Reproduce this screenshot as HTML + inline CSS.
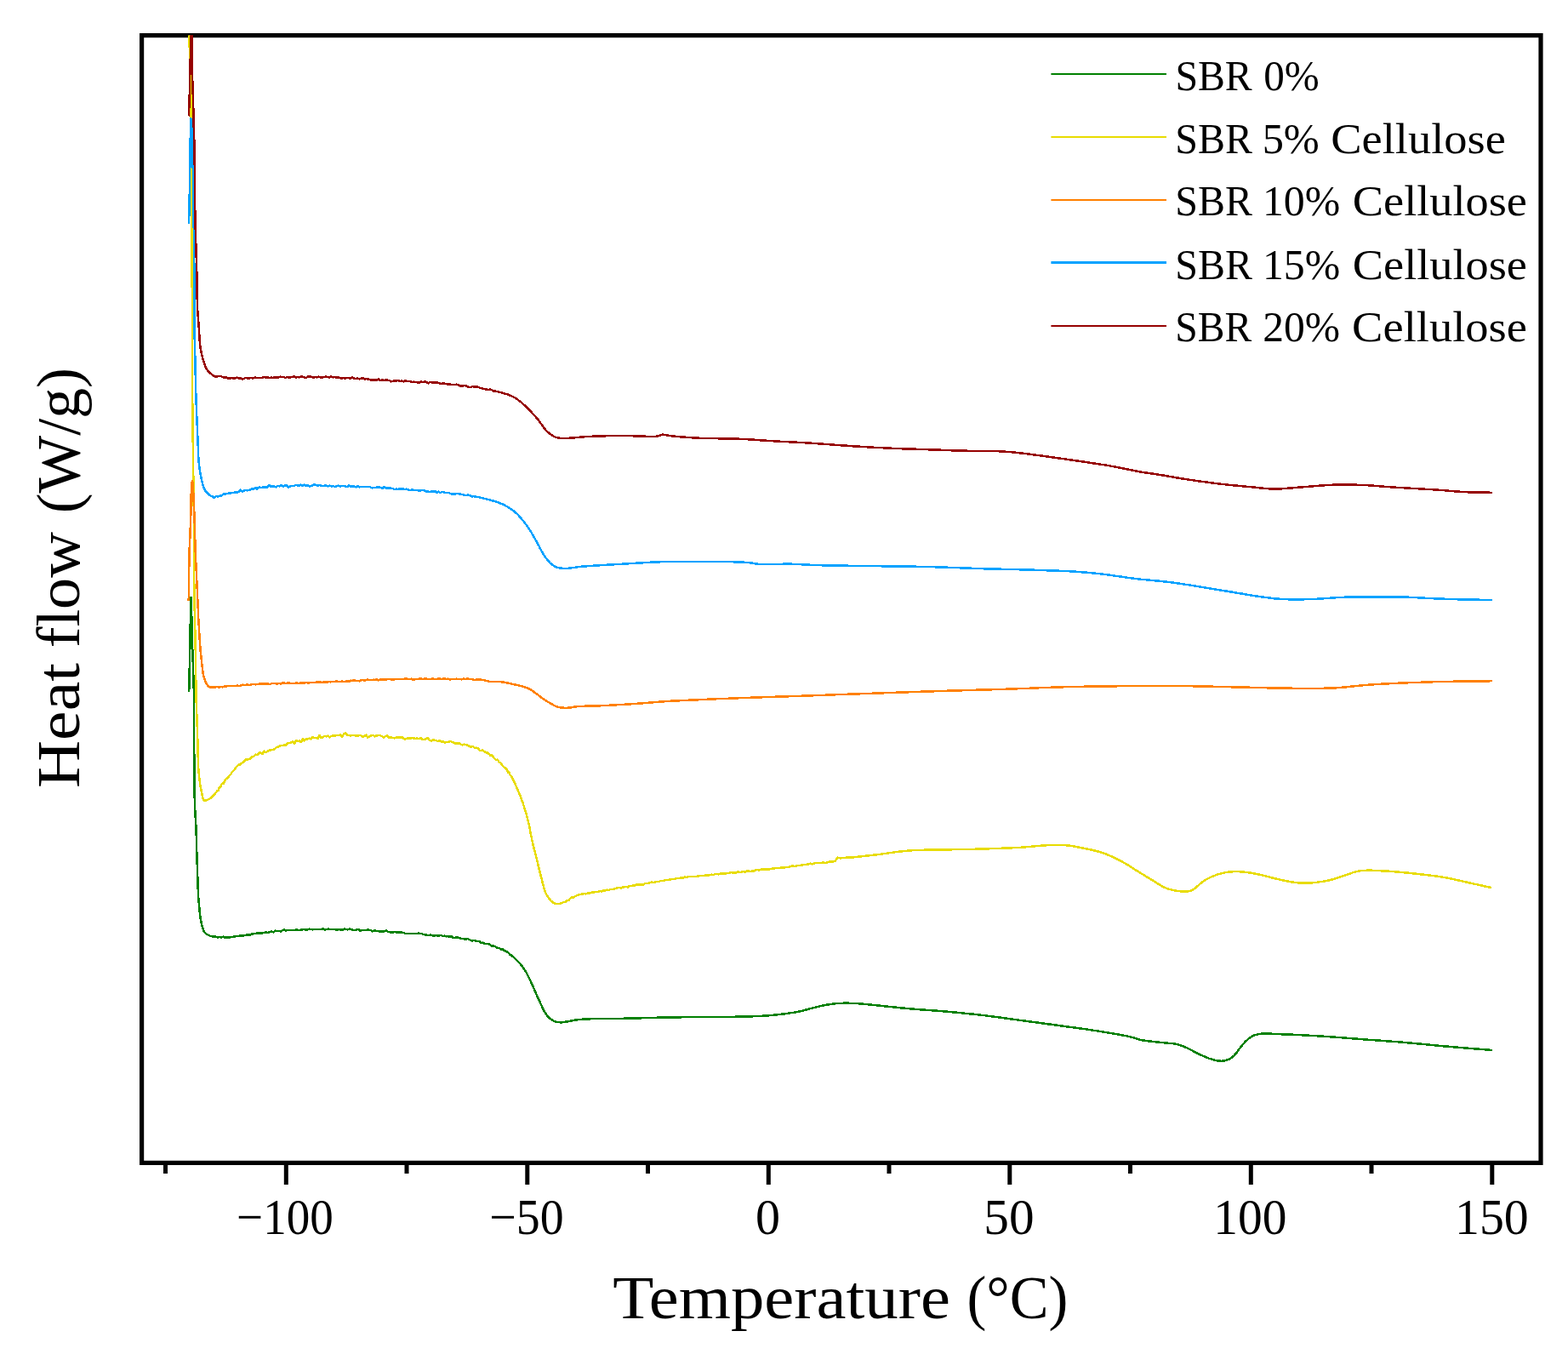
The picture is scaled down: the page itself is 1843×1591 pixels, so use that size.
<!DOCTYPE html>
<html><head><meta charset="utf-8"><title>DSC Heat flow</title><style>html,body{margin:0;padding:0;background:#fff;overflow:hidden}svg{display:block}</style></head><body>
<svg width="1843" height="1591" viewBox="0 0 1843 1591">
<rect width="1843" height="1591" fill="#fff"/>
<defs><clipPath id="pc"><rect x="166.5" y="41.5" width="1645" height="1325"/></clipPath></defs>
<rect x="166.6" y="41.6" width="1644.4" height="1324.8" fill="none" stroke="#000" stroke-width="5.2"/>
<g clip-path="url(#pc)" shape-rendering="crispEdges" fill="none" stroke-linejoin="round" stroke-linecap="butt">
<g stroke="#008000"><defs><path id="cGR" d="M222.2 813.0L222.2 811.0 222.3 808.9 222.3 806.9 222.4 804.9 222.4 802.8 222.5 800.8 222.5 798.8 222.5 796.8 222.6 794.7 222.6 792.7 222.7 790.7 222.7 788.7 222.7 786.6 222.8 784.6 222.8 782.6 222.9 780.6 222.9 778.5 223.0 776.5 223.0 774.4 223.0 772.4 223.1 770.3 223.1 768.3 223.2 766.2 223.2 764.2 223.3 762.1 223.3 760.0 223.3 757.9 223.4 755.7 223.4 753.3 223.5 750.9 223.5 748.3 223.6 745.7 223.6 743.0 223.6 740.3 223.7 737.5 223.7 734.8 223.8 732.0 223.8 729.3 223.8 726.6 223.9 724.0 223.9 721.4 224.0 718.9 224.0 716.6 224.1 714.3 224.1 712.2 224.1 710.3 224.2 708.5 224.2 706.9 224.3 705.5 224.3 704.3 224.4 703.4 224.4 702.7 224.5 702.2 224.5 702.1 224.6 702.3 224.6 703.1 224.7 704.2 224.7 705.7 224.8 707.5 224.9 709.6 224.9 711.9 225.0 714.4 225.1 717.1 225.1 719.8 225.2 722.5 225.3 725.2 225.3 727.9 225.4 730.4 225.4 732.8 225.5 735.0 225.6 737.1 225.6 739.1 225.7 741.2 225.7 743.3 225.8 745.4 225.8 747.4 225.9 749.5 225.9 751.6 226.0 753.7 226.1 755.7 226.1 757.8 226.2 759.9 226.2 761.9 226.3 764.0 226.3 766.0 226.4 768.1 226.5 770.3 226.5 772.4 226.6 774.6 226.7 776.8 226.8 779.1 226.8 781.3 226.9 783.5 227.0 785.6 227.1 787.8 227.2 789.9 227.2 792.0 227.3 794.1 227.4 796.1 227.4 798.1 227.5 800.0 227.6 802.2 227.6 804.2 227.7 806.1 227.7 808.0 227.8 809.9 227.8 811.7 227.9 813.6 227.9 815.6 228.0 817.7 228.0 820.0 228.0 821.7 228.0 823.5 228.0 825.3 228.0 827.2 228.0 829.1 228.0 831.1 228.0 833.2 228.0 835.2 228.0 837.3 228.0 839.4 228.0 841.6 228.0 843.7 228.0 845.8 228.0 847.9 228.0 850.0 228.0 852.1 228.0 854.1 228.0 856.1 228.0 858.1 228.0 860.0 228.0 862.2 228.0 864.3 228.0 866.5 228.1 868.5 228.1 870.6 228.1 872.6 228.1 874.6 228.1 876.6 228.2 878.7 228.2 880.7 228.2 882.8 228.2 884.9 228.3 887.1 228.3 889.3 228.3 891.6 228.3 893.4 228.3 895.3 228.3 897.3 228.4 899.3 228.4 901.4 228.4 903.5 228.4 905.6 228.4 907.8 228.4 909.9 228.4 912.1 228.5 914.3 228.5 916.5 228.5 918.6 228.5 920.8 228.5 922.9 228.5 925.0 228.6 927.1 228.6 929.1 228.6 931.1 228.7 933.0 228.7 934.9 228.7 936.7 228.8 938.4 228.8 940.0 228.9 942.4 229.0 944.6 229.0 946.8 229.1 948.8 229.2 950.8 229.3 952.7 229.4 954.6 229.5 956.4 229.6 958.2 229.7 960.0 229.8 962.2 229.9 964.1 230.0 965.9 230.2 967.9 230.3 970.0 230.4 972.6 230.5 974.0 230.5 975.4 230.6 977.0 230.6 978.7 230.7 980.5 230.8 982.4 230.8 984.3 230.9 986.3 230.9 988.4 231.0 990.5 231.1 992.6 231.1 994.8 231.2 997.1 231.2 999.3 231.3 1001.6 231.4 1003.8 231.4 1006.1 231.5 1008.3 231.6 1010.6 231.6 1012.8 231.7 1014.9 231.8 1017.1 231.8 1019.2 231.9 1021.2 232.0 1023.1 232.0 1025.0 232.1 1026.8 232.2 1029.1 232.3 1031.3 232.3 1033.5 232.4 1035.6 232.5 1037.7 232.5 1039.8 232.6 1041.8 232.7 1043.9 232.8 1045.8 232.9 1047.8 233.0 1049.8 233.1 1051.7 233.2 1053.6 233.3 1055.6 233.4 1057.5 233.6 1059.4 233.8 1061.5 234.0 1063.7 234.2 1065.8 234.4 1068.0 234.6 1070.2 234.8 1072.3 235.0 1074.4 235.3 1076.4 235.5 1078.4 235.8 1080.3 236.2 1082.1 236.5 1083.8 236.9 1085.4 237.5 1088.0 238.2 1090.4 238.9 1092.6 239.9 1094.6 241.2 1096.3 242.9 1097.7 244.8 1098.8 247.1 1099.7 249.5 1100.4 252.1 1100.5 253.9 1100.8 255.9 1101.7 257.9 1100.7 260.1 1101.5 262.4 1100.6 264.7 1101.9 267.0 1101.4 269.3 1101.7 271.6 1100.8 273.8 1100.9 276.0 1100.5 278.2 1100.1 280.3 1100.2 282.5 1099.3 284.6 1099.4 286.6 1099.4 288.8 1098.8 290.9 1098.3 293.1 1099.0 295.4 1097.7 297.7 1097.2 299.5 1097.2 301.4 1096.7 303.3 1096.5 305.2 1096.3 307.2 1097.0 309.2 1095.9 311.2 1095.7 313.2 1095.7 315.3 1096.0 317.4 1094.8 319.5 1094.5 321.6 1095.5 323.7 1093.7 325.9 1093.9 328.0 1094.1 330.2 1094.6 332.1 1093.2 334.1 1092.4 336.1 1093.5 338.1 1093.0 340.1 1092.9 342.1 1093.1 344.2 1092.9 346.3 1092.8 348.4 1092.5 350.4 1093.0 352.6 1093.1 354.7 1092.4 356.8 1092.1 358.9 1092.5 361.0 1092.4 363.1 1091.7 365.2 1091.9 367.3 1092.4 369.4 1091.9 371.5 1091.8 373.6 1092.0 375.7 1091.9 377.7 1091.8 379.8 1091.1 381.9 1092.5 383.9 1091.9 386.0 1091.5 388.1 1092.2 390.1 1091.9 392.2 1091.8 394.3 1092.3 396.3 1092.8 398.4 1092.1 400.5 1092.6 402.5 1092.8 404.6 1091.6 406.7 1091.9 408.7 1092.4 410.8 1091.5 412.9 1092.1 414.9 1092.8 417.0 1092.8 419.1 1092.7 421.1 1091.8 423.2 1093.6 425.3 1093.0 427.3 1093.2 429.4 1093.2 431.5 1092.5 433.5 1092.7 435.6 1092.9 437.7 1094.3 439.7 1093.4 441.8 1093.8 443.9 1093.9 445.9 1094.4 448.0 1094.5 450.1 1094.6 452.1 1094.1 454.2 1093.5 456.3 1095.0 458.3 1095.2 460.4 1095.7 462.5 1095.3 464.6 1095.2 466.7 1095.8 468.8 1095.2 470.9 1095.5 473.0 1095.7 475.1 1096.3 477.3 1097.2 479.4 1096.8 481.5 1097.1 483.6 1096.9 485.7 1097.1 487.8 1096.9 489.9 1097.2 491.9 1096.5 494.0 1097.1 496.0 1097.2 498.0 1098.2 500.0 1098.3 502.0 1098.7 503.9 1099.0 506.1 1098.5 508.2 1099.2 510.3 1099.7 512.4 1099.1 514.4 1099.7 516.4 1099.4 518.5 1099.0 520.5 1099.9 522.5 1099.7 524.4 1100.3 526.4 1100.2 528.4 1100.8 530.4 1100.0 532.4 1102.0 534.4 1102.0 536.4 1101.6 538.5 1101.7 540.6 1102.4 542.8 1103.0 545.0 1103.3 547.2 1103.7 549.4 1103.1 551.6 1103.9 553.8 1105.3 556.0 1105.3 558.1 1105.1 560.1 1105.8 562.1 1106.0 564.0 1106.6 565.8 1107.9 567.4 1107.7 569.0 1108.7 571.6 1109.0 573.8 1108.9 575.8 1110.0 577.9 1111.8 580.0 1111.4 581.8 1111.9 583.7 1113.5 585.6 1113.8 587.4 1114.4 589.3 1115.8 591.2 1115.4 593.0 1117.3 594.7 1117.7 596.4 1118.6 598.1 1120.0 599.7 1122.0 601.3 1122.8 602.9 1124.1 604.5 1125.5 606.0 1126.9 607.5 1128.4 609.0 1129.9 610.4 1131.4 611.8 1133.0 613.1 1134.7 614.4 1136.4 615.7 1138.1 616.9 1139.9 618.0 1141.7 619.0 1143.5 620.0 1145.4 621.0 1147.3 621.9 1149.3 622.8 1151.3 623.8 1153.3 624.7 1155.3 625.6 1157.3 626.5 1159.2 627.4 1161.1 628.2 1163.1 629.1 1165.1 629.9 1167.1 630.8 1169.1 631.7 1171.1 632.5 1173.0 633.4 1174.9 634.3 1176.8 635.2 1178.7 636.1 1180.7 637.0 1182.7 637.9 1184.6 638.8 1186.5 639.8 1188.3 640.8 1190.1 641.8 1191.7 642.9 1193.1 644.5 1194.9 646.2 1196.5 648.0 1197.9 649.8 1199.1 651.6 1200.0 654.0 1200.8 656.4 1201.2 659.2 1201.3 660.8 1201.3 662.5 1201.1 664.3 1200.8 666.2 1200.5 668.2 1200.1 670.3 1199.7 672.5 1199.3 674.8 1198.9 677.1 1198.5 679.5 1198.2 682.0 1197.9 683.7 1197.8 685.5 1197.6 687.3 1197.5 689.2 1197.4 691.2 1197.4 693.2 1197.3 695.2 1197.2 697.3 1197.2 699.4 1197.2 701.6 1197.1 703.8 1197.1 706.0 1197.1 708.2 1197.0 710.4 1197.0 712.6 1197.0 714.8 1197.0 717.0 1197.0 719.2 1197.0 721.4 1197.0 723.6 1196.9 725.7 1196.9 727.8 1196.9 729.9 1196.8 731.9 1196.8 734.0 1196.7 736.2 1196.7 738.3 1196.6 740.4 1196.6 742.4 1196.5 744.5 1196.5 746.6 1196.4 748.7 1196.4 750.7 1196.3 752.8 1196.3 754.8 1196.2 756.9 1196.1 758.9 1196.1 760.9 1196.0 763.0 1196.0 765.0 1195.9 767.1 1195.9 769.1 1195.8 771.2 1195.8 773.2 1195.7 775.3 1195.7 777.4 1195.7 779.4 1195.6 781.5 1195.6 783.5 1195.5 785.5 1195.5 787.6 1195.5 789.6 1195.4 791.6 1195.4 793.6 1195.4 795.7 1195.3 797.7 1195.3 799.8 1195.3 801.8 1195.2 803.9 1195.2 805.9 1195.2 808.0 1195.1 810.1 1195.1 812.2 1195.1 814.4 1195.1 816.5 1195.0 818.7 1195.0 820.6 1195.0 822.6 1195.0 824.5 1194.9 826.5 1194.9 828.6 1194.9 830.6 1194.9 832.7 1194.9 834.8 1194.9 836.9 1194.9 839.0 1194.9 841.1 1194.9 843.2 1194.9 845.3 1194.9 847.4 1194.9 849.5 1194.9 851.6 1194.9 853.6 1194.9 855.7 1194.8 857.7 1194.8 859.8 1194.8 861.7 1194.8 863.7 1194.8 865.6 1194.7 867.5 1194.7 869.4 1194.7 871.2 1194.6 873.0 1194.6 875.3 1194.5 877.5 1194.5 879.6 1194.4 881.7 1194.4 883.8 1194.3 885.8 1194.2 887.8 1194.2 889.8 1194.1 891.8 1194.0 893.8 1193.9 895.7 1193.8 897.7 1193.7 899.6 1193.6 901.6 1193.4 903.6 1193.3 905.6 1193.1 907.6 1192.9 909.7 1192.7 911.8 1192.5 913.9 1192.3 916.0 1192.1 918.1 1191.8 920.2 1191.6 922.3 1191.3 924.4 1191.0 926.4 1190.7 928.4 1190.4 930.4 1190.1 932.4 1189.8 934.4 1189.5 936.3 1189.1 938.1 1188.8 940.3 1188.4 942.4 1187.9 944.4 1187.4 946.4 1186.8 948.4 1186.3 950.3 1185.7 952.2 1185.2 954.1 1184.7 956.1 1184.1 958.0 1183.7 960.0 1183.2 962.0 1182.8 963.9 1182.3 965.9 1181.9 967.9 1181.5 969.8 1181.1 971.8 1180.7 973.8 1180.4 975.8 1180.1 977.7 1179.8 979.7 1179.5 981.7 1179.3 983.9 1179.1 986.0 1179.0 988.2 1178.9 990.4 1178.8 992.5 1178.7 994.7 1178.7 996.9 1178.7 999.1 1178.8 1001.2 1178.8 1003.4 1178.9 1005.5 1179.0 1007.6 1179.1 1009.7 1179.3 1011.7 1179.4 1013.8 1179.6 1015.9 1179.9 1018.0 1180.1 1020.3 1180.3 1022.6 1180.6 1025.1 1180.8 1026.8 1181.0 1028.7 1181.1 1030.5 1181.3 1032.4 1181.5 1034.4 1181.7 1036.4 1181.9 1038.5 1182.2 1040.5 1182.4 1042.7 1182.6 1044.8 1182.8 1046.9 1183.1 1049.1 1183.3 1051.3 1183.5 1053.5 1183.7 1055.7 1184.0 1057.8 1184.2 1060.0 1184.4 1062.2 1184.6 1064.3 1184.8 1066.4 1185.0 1068.5 1185.2 1070.6 1185.4 1072.6 1185.6 1074.7 1185.7 1076.8 1185.9 1078.8 1186.1 1080.9 1186.2 1083.0 1186.4 1085.0 1186.5 1087.1 1186.7 1089.2 1186.8 1091.2 1187.0 1093.3 1187.1 1095.4 1187.3 1097.4 1187.4 1099.5 1187.6 1101.6 1187.7 1103.6 1187.9 1105.7 1188.1 1107.8 1188.2 1109.8 1188.4 1111.9 1188.6 1114.0 1188.8 1116.0 1189.0 1118.1 1189.2 1120.2 1189.4 1122.2 1189.5 1124.3 1189.7 1126.4 1189.9 1128.4 1190.1 1130.5 1190.3 1132.6 1190.5 1134.6 1190.8 1136.7 1191.0 1138.8 1191.2 1140.8 1191.4 1142.9 1191.6 1145.0 1191.8 1147.0 1192.1 1149.1 1192.3 1151.2 1192.5 1153.2 1192.8 1155.3 1193.0 1157.4 1193.2 1159.4 1193.5 1161.5 1193.8 1163.6 1194.0 1165.6 1194.3 1167.7 1194.6 1169.8 1194.8 1171.8 1195.1 1173.9 1195.4 1176.0 1195.7 1178.0 1195.9 1180.1 1196.2 1182.2 1196.5 1184.2 1196.8 1186.3 1197.1 1188.4 1197.4 1190.4 1197.7 1192.5 1198.0 1194.6 1198.2 1196.6 1198.5 1198.7 1198.8 1200.8 1199.1 1202.8 1199.4 1204.9 1199.6 1207.0 1199.9 1209.0 1200.2 1211.1 1200.5 1213.2 1200.8 1215.2 1201.0 1217.3 1201.3 1219.4 1201.6 1221.4 1201.9 1223.5 1202.2 1225.6 1202.4 1227.6 1202.7 1229.7 1203.0 1231.8 1203.3 1233.8 1203.6 1235.9 1203.8 1238.0 1204.1 1240.0 1204.4 1242.1 1204.7 1244.2 1205.0 1246.2 1205.3 1248.3 1205.5 1250.4 1205.8 1252.5 1206.1 1254.5 1206.4 1256.6 1206.7 1258.7 1206.9 1260.7 1207.2 1262.8 1207.5 1264.9 1207.8 1267.0 1208.1 1269.0 1208.4 1271.1 1208.6 1273.2 1208.9 1275.3 1209.2 1277.3 1209.5 1279.4 1209.8 1281.5 1210.2 1283.5 1210.5 1285.6 1210.8 1287.6 1211.1 1289.7 1211.4 1291.8 1211.8 1293.9 1212.1 1296.1 1212.5 1298.2 1212.8 1300.4 1213.2 1302.6 1213.5 1304.8 1213.9 1307.0 1214.2 1309.1 1214.6 1311.2 1214.9 1313.3 1215.3 1315.4 1215.7 1317.3 1216.0 1319.3 1216.4 1321.1 1216.7 1322.9 1217.1 1324.6 1217.4 1326.1 1217.8 1327.6 1218.1 1329.0 1218.4 1331.6 1219.1 1333.7 1219.8 1335.6 1220.5 1337.6 1221.2 1340.0 1221.8 1341.7 1222.1 1343.5 1222.5 1345.4 1222.7 1347.4 1223.0 1349.4 1223.3 1351.5 1223.5 1353.7 1223.8 1355.8 1224.0 1357.9 1224.2 1360.0 1224.5 1362.0 1224.7 1363.9 1224.9 1366.1 1225.1 1368.4 1225.3 1370.6 1225.5 1372.8 1225.7 1375.0 1225.9 1377.1 1226.1 1379.1 1226.3 1381.1 1226.6 1383.0 1227.0 1385.2 1227.6 1387.1 1228.2 1389.0 1228.9 1390.9 1229.6 1392.9 1230.4 1394.9 1231.3 1396.7 1232.1 1398.5 1233.0 1400.4 1233.9 1402.3 1235.0 1404.2 1236.0 1406.1 1237.0 1408.0 1238.0 1409.8 1238.9 1411.6 1239.7 1413.7 1240.6 1415.7 1241.5 1417.7 1242.4 1419.6 1243.2 1421.6 1243.9 1423.6 1244.5 1425.6 1245.1 1427.6 1245.6 1429.6 1246.1 1431.6 1246.5 1433.6 1246.7 1435.5 1246.8 1438.0 1246.6 1440.5 1246.1 1442.8 1245.4 1445.0 1244.5 1447.0 1243.3 1448.8 1241.9 1450.5 1240.3 1452.2 1238.5 1453.7 1236.8 1455.1 1234.8 1456.4 1232.8 1457.9 1230.8 1459.4 1228.9 1460.9 1227.2 1462.4 1225.5 1463.9 1223.8 1465.6 1222.2 1467.2 1220.7 1468.9 1219.4 1470.7 1218.3 1472.4 1217.3 1474.2 1216.5 1476.2 1215.9 1478.5 1215.3 1480.0 1215.0 1481.7 1214.8 1483.4 1214.7 1485.3 1214.6 1487.2 1214.6 1489.3 1214.6 1491.4 1214.7 1493.5 1214.7 1495.7 1214.8 1497.9 1214.9 1500.2 1215.0 1502.5 1215.1 1504.8 1215.2 1507.1 1215.3 1508.9 1215.3 1510.8 1215.4 1512.7 1215.5 1514.7 1215.5 1516.7 1215.6 1518.7 1215.7 1520.8 1215.8 1522.8 1215.9 1524.9 1216.0 1527.0 1216.1 1529.2 1216.2 1531.3 1216.3 1533.5 1216.4 1535.6 1216.5 1537.8 1216.7 1540.0 1216.8 1542.1 1216.9 1544.3 1217.0 1546.4 1217.2 1548.6 1217.3 1550.7 1217.4 1552.8 1217.6 1554.9 1217.7 1557.0 1217.8 1559.1 1218.0 1561.1 1218.1 1563.2 1218.3 1565.3 1218.4 1567.3 1218.6 1569.4 1218.7 1571.5 1218.9 1573.6 1219.0 1575.6 1219.2 1577.7 1219.3 1579.8 1219.5 1581.9 1219.7 1583.9 1219.8 1586.0 1220.0 1588.1 1220.2 1590.2 1220.3 1592.2 1220.5 1594.3 1220.7 1596.4 1220.8 1598.5 1221.0 1600.5 1221.1 1602.6 1221.3 1604.7 1221.5 1606.8 1221.6 1608.8 1221.8 1610.9 1221.9 1613.0 1222.1 1615.1 1222.2 1617.1 1222.4 1619.2 1222.5 1621.3 1222.7 1623.4 1222.8 1625.5 1223.0 1627.5 1223.1 1629.6 1223.3 1631.7 1223.4 1633.8 1223.6 1635.9 1223.7 1637.9 1223.9 1640.0 1224.1 1642.1 1224.2 1644.2 1224.4 1646.2 1224.6 1648.3 1224.7 1650.4 1224.9 1652.5 1225.1 1654.5 1225.3 1656.6 1225.4 1658.7 1225.6 1660.7 1225.8 1662.8 1226.0 1664.8 1226.2 1666.8 1226.4 1668.9 1226.6 1670.9 1226.8 1673.0 1227.0 1675.0 1227.2 1677.1 1227.4 1679.2 1227.6 1681.2 1227.8 1683.3 1228.0 1685.4 1228.2 1687.5 1228.4 1689.6 1228.6 1691.7 1228.8 1693.8 1229.0 1695.9 1229.2 1698.1 1229.4 1700.0 1229.6 1702.0 1229.7 1703.9 1229.9 1705.9 1230.1 1707.8 1230.2 1709.8 1230.4 1711.8 1230.6 1713.8 1230.7 1715.8 1230.9 1717.8 1231.1 1719.8 1231.2 1721.8 1231.4 1723.8 1231.6 1725.9 1231.7 1727.9 1231.9 1729.9 1232.0 1731.9 1232.2 1734.0 1232.4 1736.0 1232.5 1738.0 1232.7 1740.1 1232.9 1742.1 1233.0 1744.1 1233.2 1746.1 1233.3 1748.2 1233.5 1750.2 1233.7 1752.2 1233.8 1754.2 1234.0"/></defs><use href="#cGR" stroke-width="2.5"/>
<use href="#cGR" stroke-width="1.2"/></g>
<g stroke="#e8dc00"><defs><path id="cYE" d="M222.4 10.0L222.4 12.1 222.4 14.2 222.4 16.4 222.4 18.5 222.5 20.7 222.5 22.8 222.5 24.9 222.5 27.1 222.5 29.2 222.5 31.3 222.5 33.4 222.5 35.5 222.6 37.6 222.6 39.6 222.6 41.6 222.6 43.8 222.6 46.0 222.7 48.2 222.7 50.4 222.7 52.5 222.7 54.6 222.8 56.7 222.8 58.8 222.8 60.9 222.9 62.9 222.9 65.0 223.0 67.0 223.1 69.1 223.2 71.2 223.3 73.2 223.4 75.1 223.5 77.1 223.7 79.0 223.8 81.1 223.9 83.3 224.0 85.5 224.1 88.0 224.1 89.6 224.2 91.3 224.2 93.0 224.3 94.7 224.3 96.5 224.3 98.4 224.3 100.3 224.3 102.2 224.4 104.2 224.4 106.2 224.4 108.2 224.4 110.3 224.4 112.3 224.4 114.4 224.4 116.6 224.4 118.7 224.4 120.8 224.4 123.0 224.4 125.1 224.4 127.3 224.5 129.4 224.5 131.6 224.5 133.7 224.5 135.9 224.5 138.0 224.5 139.9 224.5 141.8 224.5 143.7 224.6 145.7 224.6 147.6 224.6 149.5 224.6 151.5 224.6 153.4 224.6 155.3 224.7 157.3 224.7 159.2 224.7 161.2 224.7 163.2 224.7 165.2 224.7 167.2 224.8 169.2 224.8 171.2 224.8 173.2 224.8 175.2 224.8 177.3 224.8 179.4 224.9 181.5 224.9 183.6 224.9 185.7 224.9 187.8 224.9 190.0 224.9 192.1 225.0 194.3 225.0 196.5 225.0 198.7 225.0 201.0 225.0 202.8 225.0 204.6 225.0 206.5 225.0 208.3 225.1 210.2 225.1 212.1 225.1 214.1 225.1 216.0 225.1 218.0 225.1 219.9 225.1 221.9 225.1 223.9 225.1 225.9 225.2 228.0 225.2 230.0 225.2 232.1 225.2 234.1 225.2 236.2 225.2 238.3 225.2 240.3 225.2 242.4 225.2 244.5 225.2 246.6 225.3 248.7 225.3 250.8 225.3 252.9 225.3 255.0 225.3 257.1 225.3 259.2 225.3 261.4 225.3 263.5 225.3 265.6 225.3 267.7 225.3 269.7 225.4 271.8 225.4 273.9 225.4 276.0 225.4 278.1 225.4 280.1 225.4 282.2 225.4 284.2 225.4 286.2 225.4 288.2 225.4 290.2 225.5 292.2 225.5 294.2 225.5 296.1 225.5 298.1 225.5 300.0 225.5 302.1 225.5 304.2 225.5 306.3 225.5 308.3 225.6 310.4 225.6 312.4 225.6 314.5 225.6 316.5 225.6 318.5 225.6 320.5 225.6 322.5 225.7 324.5 225.7 326.5 225.7 328.5 225.7 330.5 225.7 332.5 225.7 334.4 225.7 336.4 225.8 338.4 225.8 340.3 225.8 342.3 225.8 344.2 225.8 346.2 225.8 348.2 225.8 350.1 225.8 352.1 225.9 354.1 225.9 356.0 225.9 358.0 225.9 360.0 225.9 361.9 225.9 363.9 225.9 365.9 225.9 367.9 226.0 369.9 226.0 371.9 226.0 373.9 226.0 375.9 226.0 378.0 226.0 380.0 226.0 382.0 226.0 384.0 226.0 386.0 226.0 388.0 226.0 390.0 226.0 392.0 226.0 394.0 226.0 396.0 226.1 398.0 226.1 400.1 226.1 402.1 226.1 404.1 226.1 406.2 226.1 408.2 226.1 410.2 226.1 412.3 226.1 414.3 226.1 416.3 226.1 418.4 226.1 420.4 226.1 422.5 226.1 424.5 226.1 426.6 226.1 428.6 226.1 430.7 226.1 432.7 226.1 434.7 226.1 436.8 226.1 438.8 226.1 440.8 226.1 442.9 226.1 444.9 226.1 446.9 226.1 449.0 226.1 451.0 226.1 453.0 226.1 455.0 226.1 457.0 226.2 459.0 226.2 461.0 226.2 463.0 226.2 465.0 226.2 467.0 226.2 469.0 226.2 471.1 226.2 473.2 226.3 475.2 226.3 477.3 226.3 479.3 226.3 481.4 226.3 483.5 226.4 485.5 226.4 487.6 226.4 489.7 226.4 491.8 226.4 493.8 226.5 495.9 226.5 498.0 226.5 500.0 226.5 502.1 226.6 504.1 226.6 506.2 226.6 508.2 226.6 510.3 226.7 512.3 226.7 514.3 226.7 516.3 226.7 518.3 226.8 520.3 226.8 522.3 226.8 524.3 226.8 526.3 226.9 528.2 226.9 530.2 226.9 532.1 226.9 534.0 227.0 535.9 227.0 537.8 227.0 539.7 227.0 541.5 227.1 543.4 227.1 545.2 227.1 547.0 227.1 549.2 227.2 551.4 227.2 553.5 227.2 555.6 227.2 557.7 227.3 559.7 227.3 561.7 227.3 563.6 227.4 565.6 227.4 567.5 227.4 569.5 227.4 571.4 227.5 573.3 227.5 575.2 227.5 577.1 227.6 579.1 227.6 581.0 227.6 583.0 227.6 585.0 227.7 587.0 227.7 589.1 227.7 591.2 227.7 593.3 227.8 595.5 227.8 597.7 227.8 600.0 227.8 601.8 227.8 603.6 227.8 605.4 227.9 607.2 227.9 609.1 227.9 611.0 227.9 612.9 227.9 614.8 227.9 616.7 227.9 618.7 227.9 620.7 227.9 622.7 227.9 624.7 228.0 626.7 228.0 628.8 228.0 630.8 228.0 632.9 228.0 635.0 228.0 637.1 228.0 639.2 228.0 641.3 228.0 643.4 228.0 645.5 228.0 647.6 228.0 649.7 228.0 651.8 228.0 653.9 228.0 656.0 228.1 658.1 228.1 660.3 228.1 662.4 228.1 664.5 228.1 666.6 228.1 668.6 228.1 670.7 228.1 672.8 228.1 674.8 228.2 676.9 228.2 678.9 228.2 680.9 228.2 683.0 228.2 684.9 228.3 686.9 228.3 688.9 228.3 690.8 228.3 692.9 228.4 695.1 228.4 697.2 228.4 699.3 228.5 701.4 228.5 703.6 228.5 705.7 228.6 707.8 228.6 709.9 228.6 712.0 228.7 714.1 228.7 716.2 228.8 718.3 228.8 720.4 228.9 722.5 228.9 724.6 229.0 726.6 229.0 728.7 229.0 730.8 229.1 732.8 229.1 734.9 229.2 736.9 229.2 738.9 229.3 740.9 229.3 742.9 229.4 744.9 229.4 746.9 229.5 748.9 229.5 750.9 229.5 752.8 229.6 754.8 229.6 756.7 229.7 758.6 229.7 760.5 229.7 762.4 229.8 764.3 229.8 766.2 229.8 768.4 229.9 770.7 229.9 773.0 229.9 775.2 230.0 777.5 230.0 779.8 230.0 782.0 230.1 784.3 230.1 786.5 230.1 788.7 230.1 790.9 230.2 793.1 230.2 795.3 230.2 797.4 230.3 799.5 230.3 801.6 230.3 803.7 230.3 805.7 230.4 807.6 230.4 809.6 230.4 811.4 230.5 813.3 230.5 815.0 230.5 816.7 230.6 818.4 230.6 820.0 230.7 822.4 230.7 824.6 230.8 826.7 230.9 828.6 230.9 830.5 231.0 832.4 231.1 834.2 231.2 836.1 231.2 838.0 231.3 840.0 231.4 842.0 231.4 844.0 231.5 846.1 231.6 848.1 231.6 850.1 231.7 852.2 231.8 854.3 231.9 856.5 231.9 858.7 232.0 861.0 232.1 863.4 232.2 865.2 232.2 867.1 232.3 869.0 232.3 871.1 232.4 873.1 232.4 875.3 232.5 877.4 232.5 879.6 232.6 881.9 232.6 884.1 232.7 886.3 232.7 888.6 232.8 890.8 232.9 893.0 232.9 895.1 233.0 897.2 233.1 899.3 233.2 901.3 233.3 903.2 233.5 905.0 233.6 906.8 233.8 909.3 234.0 911.7 234.3 914.1 234.5 916.3 234.8 918.5 235.1 920.7 235.4 922.7 235.8 924.7 236.1 926.6 236.5 928.5 237.0 930.9 237.4 933.4 237.9 935.8 238.5 937.9 239.2 939.5 240.2 940.5 242.1 940.6 244.4 939.6 246.7 938.3 248.3 937.2 249.8 935.8 251.3 934.2 252.8 932.5 254.3 930.7 255.5 929.2 256.8 928.6 258.0 924.9 259.2 924.9 260.4 921.9 261.6 920.2 262.9 920.5 264.3 917.2 265.6 915.4 267.0 914.5 268.5 913.3 270.0 910.7 271.6 909.5 272.9 906.8 274.3 905.9 275.7 904.4 277.1 902.1 278.6 900.4 280.1 898.8 281.7 898.6 283.4 897.3 285.1 895.8 286.8 895.0 288.6 892.6 290.4 892.7 292.3 892.0 294.3 891.5 296.3 889.2 298.3 888.8 300.4 886.5 302.4 887.1 304.5 884.7 306.5 884.6 308.5 886.1 310.5 882.3 312.4 884.2 314.4 883.0 316.4 881.6 318.3 881.6 320.3 880.9 322.3 880.6 324.2 878.7 326.2 877.7 328.2 877.0 330.2 876.0 332.2 876.2 334.1 875.0 336.1 876.1 338.1 872.9 340.0 873.0 342.0 872.6 344.0 871.1 346.0 874.2 347.9 869.8 349.9 871.2 351.9 870.5 353.9 872.0 355.8 868.2 357.7 870.5 359.6 868.4 361.5 868.5 363.4 867.5 365.4 868.3 367.3 866.3 369.4 866.8 371.5 866.8 373.6 867.9 375.4 863.8 377.3 867.1 379.3 866.4 381.3 864.9 383.3 865.4 385.3 864.6 387.4 866.3 389.5 864.9 391.6 864.4 393.7 864.3 395.8 864.2 397.9 864.2 400.0 863.5 402.1 866.0 404.2 862.4 406.2 860.9 408.2 864.0 410.2 863.9 412.2 864.4 414.2 863.9 416.2 864.0 418.2 864.4 420.2 865.0 422.2 863.8 424.2 864.0 426.2 866.1 428.2 864.9 430.2 863.6 432.3 866.7 434.4 865.4 436.5 864.3 438.7 863.8 440.6 865.3 442.6 864.3 444.6 864.2 446.7 864.1 448.7 865.0 450.8 866.5 452.9 865.3 455.1 864.5 457.2 866.5 459.3 866.1 461.5 867.0 463.6 867.4 465.7 866.3 467.9 866.5 470.0 866.8 472.1 865.9 474.1 867.7 476.2 868.5 478.2 867.6 480.2 867.3 482.1 867.5 484.3 867.2 486.4 867.3 488.5 867.8 490.6 867.6 492.6 868.1 494.7 867.3 496.7 869.2 498.7 869.1 500.7 868.1 502.7 867.3 504.7 869.5 506.7 870.7 508.7 869.3 510.7 869.7 512.7 869.9 514.7 871.2 516.8 870.0 518.8 872.0 520.9 871.0 523.0 872.4 525.1 871.8 527.2 871.8 529.4 870.9 531.5 871.9 533.5 872.6 535.6 873.7 537.6 873.6 539.7 873.1 541.6 874.5 543.6 875.4 545.5 874.7 547.3 874.9 549.5 875.5 551.7 877.2 553.8 877.6 555.9 876.9 558.0 878.8 560.0 878.7 561.9 879.2 563.8 881.7 565.6 882.1 567.3 881.5 569.0 883.0 571.1 884.4 573.0 884.4 574.8 886.0 576.5 887.8 578.2 886.9 580.0 890.1 581.6 891.7 583.3 892.9 585.0 892.7 586.7 895.7 588.4 896.2 590.0 899.1 591.5 900.7 593.0 901.9 594.4 902.6 595.8 904.4 597.0 907.4 598.3 907.5 599.4 910.4 600.6 911.7 601.7 913.6 602.8 915.5 603.8 917.4 604.8 919.4 605.7 921.5 606.6 923.6 607.5 925.7 608.4 927.8 609.3 929.9 610.1 931.8 610.9 933.7 611.6 935.6 612.3 937.5 613.1 939.4 613.8 941.4 614.5 943.3 615.1 945.3 615.8 947.3 616.4 949.2 617.0 951.1 617.6 953.0 618.1 954.9 618.7 956.9 619.2 958.8 619.7 960.8 620.2 962.8 620.7 964.8 621.2 966.8 621.6 968.7 622.1 970.7 622.5 972.6 622.9 974.6 623.2 976.6 623.6 978.6 624.0 980.6 624.4 982.6 624.8 984.5 625.2 986.5 625.6 988.5 626.1 990.5 626.5 992.5 627.0 994.4 627.5 996.4 628.0 998.4 628.5 1000.3 629.0 1002.3 629.5 1004.3 630.0 1006.3 630.5 1008.2 631.0 1010.2 631.5 1012.2 632.0 1014.2 632.5 1016.2 632.9 1018.2 633.4 1020.2 633.9 1022.2 634.4 1024.1 634.9 1026.1 635.4 1028.1 635.9 1030.0 636.4 1031.9 637.0 1034.1 637.5 1036.3 638.0 1038.4 638.6 1040.6 639.1 1042.8 639.7 1044.8 640.4 1046.8 641.1 1048.7 641.9 1050.4 643.0 1052.4 644.2 1054.3 645.5 1056.0 646.8 1057.6 648.2 1059.0 649.5 1060.1 652.1 1061.7 654.9 1062.3 656.6 1062.1 658.5 1061.6 660.6 1061.0 662.7 1059.8 664.8 1059.7 666.8 1058.0 668.6 1057.9 670.3 1055.5 672.0 1054.4 673.8 1054.6 675.6 1053.5 677.7 1052.4 679.4 1052.0 681.1 1050.8 682.9 1050.9 684.8 1050.3 686.8 1050.2 688.8 1050.3 690.8 1049.6 692.9 1049.4 695.1 1048.7 697.2 1048.4 699.4 1048.2 701.2 1047.8 703.1 1048.0 705.1 1046.9 707.1 1047.5 709.1 1046.2 711.1 1046.6 713.2 1045.6 715.2 1046.1 717.3 1045.2 719.4 1045.0 721.5 1044.8 723.6 1043.9 725.7 1043.4 727.8 1042.8 729.9 1043.6 731.9 1042.6 733.9 1042.3 736.0 1042.1 738.0 1042.5 740.0 1040.8 742.1 1041.2 744.1 1040.6 746.2 1040.6 748.2 1039.5 750.2 1039.6 752.3 1039.7 754.3 1039.6 756.4 1039.3 758.4 1038.1 760.4 1038.1 762.5 1037.7 764.5 1036.9 766.5 1036.6 768.5 1037.0 770.5 1036.4 772.5 1035.9 774.5 1036.1 776.5 1034.9 778.5 1035.1 780.4 1034.6 782.4 1034.2 784.5 1034.0 786.5 1033.6 788.5 1033.3 790.6 1032.9 792.7 1033.2 794.8 1032.1 797.0 1032.3 798.9 1031.9 800.9 1031.3 802.9 1031.5 804.9 1030.6 806.9 1031.1 808.9 1030.2 811.0 1030.1 813.1 1030.2 815.1 1030.2 817.2 1030.0 819.3 1029.8 821.5 1029.3 823.6 1028.8 825.7 1029.2 827.8 1028.9 829.9 1028.3 832.0 1028.7 834.1 1028.3 836.2 1027.7 838.3 1028.0 840.4 1027.1 842.5 1027.1 844.5 1027.3 846.6 1026.4 848.7 1026.8 850.8 1026.1 852.8 1026.6 854.9 1025.9 857.0 1026.0 859.0 1025.2 861.1 1025.4 863.2 1025.7 865.3 1025.3 867.3 1024.3 869.4 1025.0 871.5 1024.8 873.5 1024.1 875.6 1024.6 877.7 1023.5 879.8 1023.6 881.8 1023.8 883.9 1023.7 886.0 1023.4 888.1 1022.4 890.2 1021.9 892.3 1022.5 894.4 1021.6 896.5 1021.8 898.6 1021.2 900.7 1021.8 902.8 1021.5 904.9 1021.2 907.0 1020.8 909.1 1020.6 911.2 1020.2 913.3 1020.2 915.4 1019.9 917.4 1019.8 919.4 1019.3 921.4 1019.8 923.4 1019.1 925.4 1019.2 927.3 1019.0 929.5 1017.9 931.7 1017.4 933.8 1018.1 936.0 1017.3 938.1 1017.2 940.2 1016.8 942.3 1016.7 944.4 1015.9 946.4 1016.1 948.4 1015.7 950.4 1015.6 952.4 1014.5 954.3 1015.3 956.3 1014.9 958.1 1013.9 960.0 1014.0 962.4 1014.0 965.0 1014.0 967.5 1013.6 970.1 1014.0 972.5 1013.3 974.8 1012.7 976.9 1012.6 978.8 1012.7 980.4 1011.8 981.7 1011.7 983.2 1009.6 984.3 1007.7 988.2 1008.6 989.3 1008.2 990.6 1008.2 992.1 1007.9 993.8 1007.8 995.6 1007.4 997.6 1007.6 999.7 1007.2 1001.9 1007.4 1004.1 1007.2 1006.4 1006.9 1008.8 1006.7 1011.2 1006.4 1013.6 1006.2 1016.0 1005.9 1018.3 1005.6 1020.7 1005.4 1022.9 1005.1 1025.1 1004.9 1027.1 1004.7 1029.1 1004.4 1031.1 1004.2 1033.1 1003.9 1035.2 1003.7 1037.2 1003.4 1039.3 1003.1 1041.4 1002.8 1043.5 1002.5 1045.5 1002.2 1047.6 1001.9 1049.7 1001.6 1051.8 1001.3 1053.9 1001.1 1056.0 1000.8 1058.1 1000.5 1060.2 1000.3 1062.3 1000.1 1064.3 999.9 1066.4 999.7 1068.5 999.5 1070.6 999.4 1072.6 999.2 1074.7 999.1 1076.8 999.0 1078.8 998.9 1080.9 998.9 1083.0 998.8 1085.0 998.8 1087.1 998.7 1089.2 998.7 1091.2 998.7 1093.3 998.6 1095.4 998.6 1097.4 998.6 1099.5 998.6 1101.6 998.6 1103.6 998.5 1105.7 998.5 1107.8 998.5 1109.8 998.4 1111.9 998.4 1114.0 998.4 1116.0 998.3 1118.1 998.3 1120.2 998.2 1122.2 998.2 1124.3 998.2 1126.4 998.1 1128.4 998.1 1130.5 998.0 1132.6 998.0 1134.6 998.0 1136.7 997.9 1138.8 997.9 1140.8 997.9 1142.9 997.8 1145.0 997.8 1147.0 997.7 1149.1 997.7 1151.2 997.6 1153.2 997.6 1155.3 997.5 1157.4 997.4 1159.5 997.4 1161.6 997.3 1163.7 997.2 1165.8 997.2 1167.9 997.1 1170.0 997.0 1172.1 997.0 1174.2 996.9 1176.3 996.8 1178.4 996.7 1180.5 996.7 1182.6 996.6 1184.7 996.5 1186.8 996.4 1188.8 996.3 1190.8 996.2 1192.8 996.1 1194.8 996.0 1196.8 995.9 1198.7 995.8 1200.9 995.7 1203.0 995.5 1205.2 995.3 1207.3 995.2 1209.5 995.0 1211.6 994.8 1213.6 994.6 1215.7 994.4 1217.7 994.2 1219.8 994.0 1221.8 993.8 1223.7 993.7 1225.7 993.5 1227.6 993.4 1229.5 993.3 1231.3 993.2 1233.6 993.1 1235.9 993.0 1238.1 992.9 1240.3 992.9 1242.4 992.9 1244.5 992.8 1246.6 992.9 1248.7 992.9 1250.9 993.0 1253.0 993.2 1255.0 993.4 1257.0 993.6 1258.9 993.9 1260.9 994.2 1262.9 994.5 1264.9 994.9 1266.8 995.3 1268.8 995.7 1270.8 996.1 1272.7 996.5 1274.7 996.9 1276.7 997.3 1278.7 997.7 1280.6 998.1 1282.6 998.6 1284.6 999.0 1286.6 999.5 1288.6 1000.0 1290.5 1000.5 1292.5 1001.1 1294.5 1001.7 1296.4 1002.3 1298.4 1003.0 1300.4 1003.8 1302.4 1004.6 1304.4 1005.4 1306.3 1006.3 1308.3 1007.2 1310.3 1008.1 1312.2 1009.1 1314.2 1010.1 1316.2 1011.1 1318.1 1012.1 1320.0 1013.1 1321.8 1014.2 1323.7 1015.3 1325.6 1016.4 1327.5 1017.6 1329.4 1018.8 1331.2 1020.0 1333.1 1021.1 1334.9 1022.3 1336.6 1023.4 1338.3 1024.5 1340.0 1025.5 1341.9 1026.7 1343.8 1027.8 1345.5 1028.9 1347.3 1030.0 1349.0 1031.0 1350.7 1032.1 1352.5 1033.1 1354.3 1034.2 1356.1 1035.3 1357.9 1036.4 1359.7 1037.6 1361.6 1038.7 1363.4 1039.9 1365.3 1041.0 1367.2 1042.0 1369.1 1042.9 1371.0 1043.7 1373.1 1044.4 1375.2 1045.1 1377.3 1045.6 1379.5 1046.1 1381.6 1046.5 1383.7 1046.9 1385.7 1047.1 1387.7 1047.3 1389.8 1047.5 1391.8 1047.6 1393.8 1047.6 1395.7 1047.5 1397.7 1047.2 1399.7 1046.6 1401.3 1045.9 1402.9 1044.9 1404.6 1043.7 1406.2 1042.4 1407.8 1040.9 1409.5 1039.5 1411.2 1038.0 1412.9 1036.6 1414.6 1035.3 1416.4 1034.2 1418.2 1033.2 1420.1 1032.2 1422.0 1031.3 1423.9 1030.4 1425.8 1029.6 1427.8 1028.8 1429.7 1028.1 1431.7 1027.4 1433.6 1026.8 1435.5 1026.3 1437.6 1025.8 1439.7 1025.3 1441.7 1025.0 1443.7 1024.7 1445.8 1024.4 1447.9 1024.3 1450.0 1024.2 1452.2 1024.1 1454.2 1024.1 1456.3 1024.2 1458.3 1024.3 1460.4 1024.4 1462.5 1024.7 1464.6 1024.9 1466.8 1025.2 1469.1 1025.5 1471.4 1025.9 1473.7 1026.3 1475.5 1026.6 1477.3 1027.0 1479.2 1027.4 1481.2 1027.9 1483.2 1028.3 1485.2 1028.8 1487.2 1029.3 1489.3 1029.9 1491.3 1030.4 1493.4 1031.0 1495.4 1031.5 1497.5 1032.0 1499.5 1032.5 1501.4 1033.0 1503.4 1033.4 1505.3 1033.8 1507.1 1034.2 1509.2 1034.6 1511.3 1035.0 1513.3 1035.4 1515.3 1035.8 1517.2 1036.2 1519.1 1036.5 1521.1 1036.8 1523.0 1037.1 1525.0 1037.3 1526.9 1037.5 1528.9 1037.6 1531.0 1037.7 1533.0 1037.7 1535.0 1037.7 1537.1 1037.6 1539.2 1037.5 1541.3 1037.4 1543.4 1037.2 1545.5 1037.0 1547.6 1036.8 1549.7 1036.5 1551.8 1036.2 1553.8 1035.9 1555.8 1035.6 1557.7 1035.2 1559.6 1034.9 1561.9 1034.4 1564.1 1033.9 1566.3 1033.3 1568.4 1032.7 1570.4 1032.0 1572.5 1031.4 1574.5 1030.7 1576.6 1030.0 1578.7 1029.4 1580.6 1028.8 1582.5 1028.1 1584.3 1027.5 1586.1 1026.8 1588.0 1026.1 1589.8 1025.4 1591.7 1024.8 1593.7 1024.3 1595.7 1023.8 1597.8 1023.4 1599.6 1023.2 1601.5 1023.0 1603.5 1022.8 1605.4 1022.8 1607.5 1022.7 1609.5 1022.7 1611.6 1022.7 1613.6 1022.8 1615.8 1022.9 1617.9 1023.0 1620.0 1023.1 1622.2 1023.2 1624.3 1023.3 1626.5 1023.4 1628.5 1023.5 1630.5 1023.6 1632.6 1023.7 1634.7 1023.9 1636.7 1024.0 1638.9 1024.2 1641.0 1024.4 1643.1 1024.6 1645.2 1024.8 1647.4 1025.0 1649.5 1025.2 1651.7 1025.4 1653.8 1025.6 1655.9 1025.8 1658.1 1026.0 1660.2 1026.3 1662.3 1026.5 1664.3 1026.7 1666.3 1026.9 1668.3 1027.1 1670.3 1027.4 1672.3 1027.6 1674.2 1027.8 1676.2 1028.0 1678.2 1028.3 1680.2 1028.5 1682.2 1028.8 1684.2 1029.0 1686.2 1029.3 1688.2 1029.6 1690.2 1029.8 1692.1 1030.1 1694.1 1030.4 1696.1 1030.8 1698.1 1031.1 1700.1 1031.5 1702.2 1031.8 1704.2 1032.2 1706.3 1032.7 1708.4 1033.1 1710.5 1033.6 1712.6 1034.0 1714.6 1034.5 1716.7 1035.0 1718.8 1035.4 1720.8 1035.9 1722.8 1036.4 1724.8 1036.8 1726.7 1037.3 1728.6 1037.7 1730.4 1038.1 1732.2 1038.5 1733.9 1038.9 1736.3 1039.4 1738.5 1039.9 1740.7 1040.4 1742.8 1040.8 1744.8 1041.3 1746.9 1041.7 1748.9 1042.1 1750.9 1042.6 1753.0 1043.0"/></defs><use href="#cYE" stroke-width="2.5"/>
<use href="#cYE" stroke-width="1.2"/></g>
<g stroke="#ff8000"><defs><path id="cOR" d="M221.7 705.9L221.7 703.9 221.8 701.8 221.8 699.8 221.8 697.7 221.8 695.6 221.9 693.6 221.9 691.5 221.9 689.4 222.0 687.3 222.0 685.2 222.0 683.1 222.0 681.0 222.1 679.0 222.1 676.9 222.1 674.8 222.1 672.8 222.2 670.7 222.2 668.7 222.2 666.6 222.3 664.6 222.3 662.6 222.3 660.7 222.4 658.7 222.4 656.8 222.5 654.9 222.5 653.0 222.6 651.1 222.6 649.3 222.7 647.0 222.7 644.8 222.8 642.6 222.9 640.4 223.0 638.2 223.1 636.1 223.2 634.0 223.3 631.9 223.3 629.8 223.4 627.8 223.5 625.8 223.6 623.7 223.7 621.7 223.8 619.7 223.9 617.7 224.0 615.7 224.0 613.6 224.1 611.6 224.2 609.4 224.2 607.2 224.3 604.9 224.3 602.6 224.4 600.3 224.4 598.0 224.4 595.7 224.5 593.5 224.5 591.3 224.5 589.1 224.6 587.0 224.6 584.9 224.7 583.0 224.7 581.1 224.8 579.4 224.9 577.7 225.1 575.0 225.2 572.2 225.4 569.6 225.6 567.5 225.8 566.0 226.0 565.4 226.3 566.3 226.5 568.7 226.8 571.8 227.0 575.0 227.1 576.6 227.2 578.3 227.3 580.2 227.4 582.1 227.5 584.1 227.6 586.2 227.7 588.4 227.8 590.6 227.9 592.8 228.0 595.1 228.1 597.5 228.2 599.8 228.3 602.2 228.4 604.0 228.4 605.8 228.5 607.7 228.6 609.7 228.6 611.6 228.7 613.6 228.8 615.7 228.8 617.7 228.9 619.8 228.9 621.9 229.0 624.1 229.1 626.2 229.1 628.3 229.2 630.5 229.2 632.6 229.3 634.8 229.4 636.9 229.4 639.0 229.5 641.1 229.6 643.2 229.7 645.3 229.7 647.3 229.8 649.3 229.9 651.4 230.0 653.5 230.1 655.6 230.1 657.7 230.2 659.8 230.3 661.9 230.4 663.9 230.5 666.0 230.6 668.0 230.7 670.0 230.8 672.1 230.9 674.1 231.0 676.2 231.1 678.2 231.2 680.3 231.3 682.4 231.4 684.5 231.5 686.6 231.6 688.7 231.7 690.8 231.8 692.8 231.9 694.8 232.0 696.8 232.1 698.9 232.1 701.0 232.2 703.0 232.3 705.1 232.4 707.2 232.5 709.3 232.6 711.4 232.7 713.5 232.8 715.6 232.9 717.7 233.0 719.8 233.0 721.9 233.1 723.9 233.2 726.0 233.3 728.0 233.4 730.1 233.6 732.1 233.7 734.1 233.8 736.1 233.9 738.0 234.0 740.2 234.2 742.4 234.3 744.6 234.4 746.8 234.6 749.0 234.7 751.2 234.9 753.4 235.0 755.5 235.2 757.7 235.3 759.8 235.5 761.9 235.6 763.9 235.8 766.0 236.0 768.0 236.2 769.9 236.4 771.9 236.6 773.8 236.8 775.6 237.1 777.9 237.3 780.2 237.6 782.5 237.8 784.8 238.1 786.9 238.4 789.1 238.7 791.1 239.1 793.1 239.5 794.9 239.9 796.7 240.5 798.3 241.4 800.6 242.5 802.8 243.6 804.7 244.8 806.2 246.2 807.3 248.1 807.8 250.2 807.6 252.8 807.5 254.3 807.1 256.0 807.3 257.8 807.4 259.8 807.0 261.8 807.3 264.0 806.3 266.2 806.5 268.5 806.0 270.8 805.8 273.1 805.9 275.4 805.9 277.3 805.8 279.2 805.7 281.1 806.2 283.1 805.6 285.2 804.6 287.3 805.1 289.4 804.7 291.5 804.6 293.6 805.1 295.8 804.4 298.0 803.7 300.2 804.4 302.4 804.0 304.5 803.6 306.7 803.6 308.9 803.6 311.0 803.7 313.1 803.5 315.2 803.5 317.3 804.1 319.4 803.1 321.5 803.0 323.6 803.2 325.7 803.6 327.8 802.9 329.9 803.6 331.9 802.6 334.0 802.7 336.1 803.0 338.2 802.6 340.3 802.7 342.4 803.0 344.5 803.0 346.6 802.8 348.7 802.6 350.8 803.1 352.9 802.7 355.0 802.4 357.1 802.8 359.2 802.0 361.4 802.3 363.5 802.4 365.6 802.0 367.7 801.8 369.9 802.0 372.0 801.6 374.1 801.5 376.2 801.3 378.3 802.0 380.3 801.2 382.4 801.8 384.5 801.4 386.5 801.1 388.5 801.3 390.7 801.1 392.9 801.0 395.1 800.4 397.3 800.8 399.5 801.0 401.7 800.7 403.8 800.8 406.0 800.9 408.1 800.4 410.2 800.9 412.2 799.6 414.2 800.0 416.2 799.1 418.1 800.2 420.0 799.8 422.3 800.3 424.4 799.5 426.5 798.8 428.4 799.8 430.4 798.8 432.4 798.7 434.5 799.0 436.7 799.2 439.1 798.7 440.8 798.9 442.6 798.1 444.4 799.3 446.2 798.6 448.1 798.6 450.1 798.7 452.1 798.5 454.1 798.4 456.1 798.0 458.2 798.2 460.3 798.3 462.5 798.5 464.7 798.0 466.8 798.0 469.1 798.1 471.3 798.1 473.5 797.9 475.8 797.7 478.1 797.6 480.0 798.2 481.9 797.9 483.8 797.7 485.8 798.9 487.9 798.0 490.0 798.0 492.1 797.7 494.3 797.3 496.5 798.0 498.7 797.6 500.9 797.6 503.1 798.0 505.3 798.0 507.6 797.7 509.8 797.6 512.0 798.3 514.3 797.8 516.5 797.2 518.6 797.9 520.8 797.7 522.9 797.6 525.0 797.9 527.1 797.7 529.1 798.4 531.0 797.8 533.0 797.8 534.8 798.1 536.6 797.6 538.3 798.1 540.0 797.8 542.4 798.3 544.7 797.6 547.0 798.0 549.2 797.4 551.3 797.8 553.4 798.0 555.4 798.2 557.4 798.8 559.2 798.8 561.0 798.3 562.8 798.4 564.4 798.5 566.0 798.7 568.4 799.1 570.5 799.6 572.5 800.2 574.4 800.7 576.5 801.0 578.7 801.1 580.9 801.1 583.1 801.0 585.4 800.9 587.7 801.0 589.8 801.3 592.0 801.6 594.2 802.1 596.4 802.5 598.6 803.0 600.8 803.5 603.0 804.0 605.2 804.4 607.5 804.9 609.7 805.4 611.8 805.9 613.8 806.5 616.1 807.2 618.3 808.0 620.4 808.8 622.5 809.8 624.3 810.8 626.0 811.9 627.7 813.1 629.4 814.4 631.1 815.6 632.8 816.9 634.6 818.2 636.3 819.6 638.0 820.9 639.8 822.1 641.5 823.2 643.3 824.3 645.1 825.4 646.8 826.4 648.5 827.3 650.6 828.5 652.5 829.5 654.6 830.4 656.8 831.0 659.1 831.4 661.5 831.7 663.6 831.8 665.8 831.8 668.0 831.7 670.2 831.5 672.3 831.2 674.3 830.8 676.5 830.4 678.9 830.1 680.6 830.0 682.4 829.9 684.3 829.8 686.3 829.8 688.3 829.7 690.5 829.7 692.8 829.7 695.1 829.6 697.5 829.6 700.0 829.5 701.7 829.4 703.5 829.3 705.3 829.3 707.2 829.2 709.2 829.1 711.2 829.0 713.3 828.9 715.4 828.8 717.6 828.7 719.7 828.5 721.9 828.4 724.1 828.3 726.3 828.2 728.5 828.1 730.8 827.9 732.9 827.8 735.1 827.7 737.3 827.5 739.4 827.4 741.4 827.3 743.4 827.2 745.4 827.0 747.3 826.9 749.5 826.7 751.7 826.6 753.9 826.4 756.1 826.2 758.2 826.1 760.4 825.9 762.5 825.7 764.5 825.5 766.6 825.4 768.6 825.2 770.6 825.0 772.5 824.9 774.4 824.7 776.3 824.6 778.2 824.4 780.0 824.3 782.1 824.2 784.1 824.0 786.0 823.9 787.8 823.8 789.6 823.7 791.4 823.6 793.3 823.5 795.4 823.4 797.6 823.3 800.0 823.2 801.5 823.1 803.1 823.0 804.7 823.0 806.4 822.9 808.2 822.8 810.0 822.7 811.8 822.6 813.7 822.5 815.7 822.5 817.7 822.4 819.7 822.3 821.7 822.2 823.8 822.1 825.9 822.0 828.1 821.9 830.2 821.8 832.4 821.7 834.6 821.6 836.8 821.5 839.0 821.4 841.3 821.3 843.5 821.2 845.8 821.1 848.0 821.0 850.3 820.9 852.5 820.9 854.8 820.8 857.0 820.7 859.2 820.6 861.4 820.5 863.3 820.4 865.2 820.4 867.1 820.3 869.1 820.2 871.0 820.1 873.0 820.1 875.0 820.0 876.9 819.9 878.9 819.8 880.9 819.8 883.0 819.7 885.0 819.6 887.0 819.6 889.0 819.5 891.1 819.4 893.1 819.4 895.2 819.3 897.2 819.2 899.3 819.2 901.4 819.1 903.5 819.0 905.5 818.9 907.6 818.9 909.7 818.8 911.8 818.7 913.9 818.7 915.9 818.6 918.0 818.5 920.1 818.5 922.2 818.4 924.3 818.3 926.3 818.3 928.4 818.2 930.5 818.1 932.5 818.1 934.6 818.0 936.7 817.9 938.7 817.8 940.8 817.8 942.8 817.7 944.8 817.6 946.9 817.6 948.9 817.5 950.9 817.4 953.0 817.3 955.0 817.3 957.0 817.2 959.1 817.1 961.1 817.1 963.2 817.0 965.2 816.9 967.2 816.8 969.3 816.8 971.3 816.7 973.3 816.6 975.4 816.5 977.4 816.5 979.4 816.4 981.5 816.3 983.5 816.2 985.5 816.2 987.6 816.1 989.6 816.0 991.6 816.0 993.7 815.9 995.7 815.8 997.7 815.7 999.8 815.7 1001.8 815.6 1003.8 815.5 1005.9 815.4 1007.9 815.4 1010.0 815.3 1012.0 815.2 1014.0 815.2 1016.1 815.1 1018.1 815.0 1020.1 814.9 1022.2 814.9 1024.2 814.8 1026.2 814.7 1028.3 814.7 1030.3 814.6 1032.3 814.5 1034.4 814.4 1036.4 814.4 1038.4 814.3 1040.5 814.2 1042.5 814.2 1044.6 814.1 1046.6 814.0 1048.6 813.9 1050.7 813.9 1052.7 813.8 1054.7 813.7 1056.8 813.7 1058.8 813.6 1060.8 813.5 1062.9 813.4 1064.9 813.4 1066.9 813.3 1069.0 813.2 1071.0 813.2 1073.0 813.1 1075.1 813.0 1077.1 812.9 1079.1 812.9 1081.2 812.8 1083.2 812.7 1085.3 812.7 1087.3 812.6 1089.3 812.5 1091.4 812.5 1093.4 812.4 1095.4 812.3 1097.5 812.3 1099.5 812.2 1101.5 812.1 1103.6 812.1 1105.6 812.0 1107.6 811.9 1109.7 811.9 1111.7 811.8 1113.8 811.7 1115.8 811.7 1117.8 811.6 1119.9 811.6 1121.9 811.5 1124.0 811.4 1126.0 811.4 1128.1 811.3 1130.1 811.3 1132.2 811.2 1134.2 811.1 1136.3 811.1 1138.3 811.0 1140.4 811.0 1142.4 810.9 1144.5 810.9 1146.5 810.8 1148.6 810.7 1150.6 810.7 1152.7 810.6 1154.7 810.6 1156.7 810.5 1158.8 810.5 1160.8 810.4 1162.8 810.3 1164.9 810.3 1166.9 810.2 1168.9 810.2 1170.9 810.1 1172.9 810.0 1174.9 810.0 1176.9 809.9 1178.9 809.9 1180.9 809.8 1182.9 809.7 1184.9 809.7 1186.9 809.6 1189.0 809.5 1191.0 809.5 1193.1 809.4 1195.1 809.3 1197.1 809.2 1199.1 809.2 1201.1 809.1 1203.0 809.0 1205.0 808.9 1206.9 808.9 1208.9 808.8 1210.8 808.7 1212.7 808.6 1214.7 808.5 1216.6 808.5 1218.6 808.4 1220.5 808.3 1222.4 808.2 1224.4 808.1 1226.3 808.1 1228.3 808.0 1230.3 807.9 1232.3 807.8 1234.3 807.8 1236.3 807.7 1238.3 807.6 1240.4 807.5 1242.5 807.5 1244.6 807.4 1246.7 807.3 1248.8 807.3 1251.0 807.2 1253.2 807.2 1255.4 807.1 1257.7 807.1 1260.0 807.0 1261.8 807.0 1263.5 806.9 1265.3 806.9 1267.2 806.9 1269.0 806.8 1270.9 806.8 1272.8 806.8 1274.7 806.7 1276.6 806.7 1278.6 806.7 1280.6 806.6 1282.6 806.6 1284.6 806.6 1286.6 806.5 1288.6 806.5 1290.7 806.5 1292.7 806.5 1294.8 806.4 1296.9 806.4 1299.0 806.4 1301.1 806.4 1303.2 806.3 1305.4 806.3 1307.5 806.3 1309.6 806.3 1311.8 806.3 1313.9 806.2 1316.1 806.2 1318.2 806.2 1320.4 806.2 1322.6 806.2 1324.7 806.2 1326.9 806.1 1329.0 806.1 1331.2 806.1 1333.3 806.1 1335.5 806.1 1337.6 806.1 1339.8 806.1 1341.9 806.1 1344.0 806.1 1346.1 806.1 1348.2 806.1 1350.3 806.0 1352.4 806.0 1354.5 806.0 1356.5 806.0 1358.6 806.0 1360.6 806.0 1362.6 806.0 1364.6 806.0 1366.6 806.0 1368.6 806.0 1370.5 806.0 1372.4 806.0 1374.3 806.0 1376.2 806.0 1378.1 806.1 1379.9 806.1 1381.7 806.1 1383.5 806.1 1385.3 806.1 1387.0 806.1 1389.3 806.1 1391.6 806.1 1393.8 806.2 1396.0 806.2 1398.2 806.2 1400.4 806.2 1402.5 806.3 1404.7 806.3 1406.8 806.3 1408.9 806.4 1410.9 806.4 1413.0 806.5 1415.0 806.5 1417.1 806.5 1419.1 806.6 1421.1 806.6 1423.0 806.7 1425.0 806.7 1427.0 806.8 1428.9 806.8 1430.9 806.9 1432.8 806.9 1434.7 807.0 1436.6 807.0 1438.5 807.1 1440.4 807.1 1442.3 807.1 1444.2 807.2 1446.1 807.2 1448.0 807.3 1449.9 807.3 1451.8 807.4 1453.7 807.4 1455.6 807.5 1457.5 807.5 1459.6 807.5 1461.7 807.6 1463.8 807.6 1465.9 807.7 1468.0 807.7 1470.0 807.8 1472.1 807.8 1474.1 807.9 1476.2 807.9 1478.2 808.0 1480.2 808.0 1482.2 808.1 1484.2 808.1 1486.2 808.2 1488.2 808.2 1490.2 808.3 1492.2 808.3 1494.2 808.4 1496.2 808.4 1498.1 808.5 1500.1 808.5 1502.1 808.5 1504.1 808.6 1506.1 808.6 1508.0 808.6 1510.0 808.7 1512.0 808.7 1514.0 808.7 1516.1 808.7 1518.2 808.7 1520.3 808.8 1522.4 808.8 1524.5 808.8 1526.6 808.8 1528.7 808.8 1530.8 808.9 1532.8 808.9 1534.9 808.9 1537.0 808.9 1539.1 808.9 1541.2 808.9 1543.3 808.9 1545.3 808.9 1547.4 808.9 1549.5 808.9 1551.5 808.9 1553.5 808.8 1555.6 808.8 1557.6 808.7 1559.6 808.7 1561.6 808.6 1563.6 808.6 1565.6 808.5 1567.6 808.4 1569.7 808.3 1571.8 808.2 1573.9 808.0 1575.9 807.9 1577.9 807.7 1579.9 807.5 1581.9 807.3 1583.9 807.2 1585.8 807.0 1587.8 806.7 1589.8 806.5 1591.7 806.3 1593.7 806.1 1595.7 805.9 1597.7 805.7 1599.8 805.5 1601.8 805.3 1603.9 805.1 1606.1 804.9 1608.2 804.7 1610.4 804.6 1612.7 804.4 1614.5 804.3 1616.3 804.2 1618.2 804.1 1620.1 803.9 1621.9 803.8 1623.9 803.7 1625.8 803.6 1627.7 803.5 1629.7 803.4 1631.7 803.3 1633.7 803.2 1635.7 803.1 1637.7 803.0 1639.8 802.9 1641.8 802.8 1643.9 802.7 1645.9 802.6 1648.0 802.5 1650.1 802.5 1652.2 802.4 1654.2 802.3 1656.3 802.2 1658.4 802.1 1660.5 802.1 1662.6 802.0 1664.7 801.9 1666.8 801.8 1668.8 801.8 1670.9 801.7 1673.0 801.6 1675.0 801.6 1677.1 801.5 1679.1 801.4 1681.2 801.4 1683.2 801.3 1685.2 801.2 1687.2 801.2 1689.2 801.1 1691.3 801.1 1693.3 801.0 1695.3 801.0 1697.3 801.0 1699.3 800.9 1701.3 800.9 1703.4 800.8 1705.4 800.8 1707.4 800.8 1709.4 800.7 1711.4 800.7 1713.5 800.7 1715.5 800.7 1717.5 800.6 1719.5 800.6 1721.5 800.6 1723.5 800.6 1725.6 800.5 1727.6 800.5 1729.6 800.5 1731.6 800.5 1733.6 800.5 1735.6 800.4 1737.7 800.4 1739.7 800.4 1741.7 800.4 1743.7 800.3 1745.7 800.3 1747.7 800.3 1749.8 800.3 1751.8 800.2 1753.8 800.2"/></defs><use href="#cOR" stroke-width="2.5"/>
<use href="#cOR" stroke-width="1.2"/></g>
<g stroke="#03a2ff"><defs><path id="cBL" d="M222.0 263.0L222.1 260.9 222.1 258.9 222.2 256.9 222.2 254.9 222.3 253.0 222.3 250.9 222.4 248.8 222.4 246.7 222.5 244.4 222.5 242.0 222.5 240.3 222.6 238.6 222.6 236.7 222.6 234.9 222.7 233.0 222.7 231.0 222.7 229.0 222.8 227.0 222.8 225.0 222.8 222.9 222.9 220.8 222.9 218.7 222.9 216.6 223.0 214.5 223.0 212.3 223.0 210.2 223.1 208.1 223.1 206.1 223.1 204.0 223.2 202.0 223.2 200.0 223.2 198.0 223.3 195.9 223.3 193.8 223.3 191.7 223.4 189.6 223.4 187.5 223.4 185.4 223.4 183.3 223.5 181.2 223.5 179.1 223.5 177.1 223.6 175.0 223.6 173.0 223.6 171.0 223.7 169.1 223.7 167.2 223.7 165.3 223.7 163.5 223.8 161.7 223.8 160.0 223.8 157.4 223.8 154.7 223.8 151.9 223.8 149.1 223.8 146.5 223.9 144.1 223.9 142.0 224.0 140.4 224.1 139.4 224.2 139.0 224.6 140.0 225.1 142.3 225.5 145.0 225.7 146.7 225.8 148.6 226.0 150.6 226.1 152.7 226.1 155.0 226.2 157.4 226.3 160.0 226.3 161.6 226.4 163.3 226.4 165.0 226.5 166.9 226.5 168.8 226.5 170.9 226.5 172.9 226.6 175.0 226.6 177.2 226.6 179.3 226.6 181.5 226.6 183.7 226.7 185.9 226.7 188.0 226.7 190.2 226.7 192.2 226.7 194.3 226.7 196.3 226.8 198.2 226.8 200.0 226.8 202.2 226.9 204.2 226.9 206.2 227.0 208.2 227.0 210.1 227.0 212.0 227.1 213.8 227.1 215.7 227.2 217.6 227.2 219.6 227.2 221.7 227.3 223.8 227.3 226.0 227.3 227.8 227.4 229.6 227.4 231.4 227.4 233.4 227.4 235.3 227.4 237.4 227.5 239.4 227.5 241.5 227.5 243.6 227.5 245.7 227.6 247.8 227.6 250.0 227.6 252.1 227.6 254.2 227.6 256.3 227.7 258.4 227.7 260.5 227.7 262.5 227.7 264.5 227.7 266.5 227.8 268.4 227.8 270.2 227.8 272.0 227.8 274.2 227.9 276.2 227.9 278.2 227.9 280.1 228.0 281.9 228.0 283.7 228.0 285.5 228.0 287.4 228.1 289.2 228.1 291.2 228.1 293.2 228.2 295.3 228.2 297.6 228.2 300.0 228.2 301.5 228.2 303.1 228.2 304.8 228.2 306.5 228.2 308.2 228.3 310.0 228.3 311.9 228.3 313.8 228.3 315.8 228.3 317.8 228.3 319.8 228.3 321.9 228.3 324.0 228.3 326.1 228.3 328.2 228.3 330.4 228.3 332.6 228.3 334.8 228.3 337.0 228.3 339.2 228.3 341.4 228.3 343.6 228.3 345.9 228.3 348.1 228.3 350.3 228.3 352.5 228.3 354.6 228.3 356.8 228.3 358.9 228.3 361.0 228.3 363.1 228.3 365.2 228.3 367.2 228.3 369.1 228.3 371.1 228.3 373.0 228.3 374.8 228.4 376.6 228.4 378.3 228.4 380.0 228.4 382.4 228.5 384.7 228.5 386.9 228.5 389.1 228.6 391.2 228.6 393.2 228.7 395.2 228.7 397.2 228.8 399.1 228.8 401.1 228.9 403.0 228.9 404.9 229.0 406.9 229.0 408.8 229.1 410.8 229.1 412.8 229.2 414.8 229.2 416.9 229.3 419.0 229.3 421.0 229.4 423.0 229.4 425.0 229.5 427.0 229.5 429.0 229.6 431.1 229.6 433.1 229.6 435.2 229.7 437.2 229.7 439.3 229.8 441.4 229.8 443.5 229.8 445.6 229.9 447.7 229.9 449.8 230.0 451.9 230.0 454.0 230.1 456.1 230.2 458.3 230.2 460.4 230.3 462.5 230.3 464.7 230.4 466.8 230.5 468.8 230.5 470.9 230.6 472.9 230.7 475.1 230.8 477.2 230.9 479.4 230.9 481.5 231.0 483.7 231.1 485.9 231.2 488.1 231.3 490.3 231.4 492.5 231.5 494.7 231.6 496.9 231.7 499.0 231.8 501.1 231.9 503.2 231.9 505.3 232.0 507.3 232.1 509.3 232.2 511.2 232.3 513.1 232.4 514.9 232.5 516.7 232.5 518.4 232.6 520.0 232.7 522.6 232.8 525.0 232.9 527.2 232.9 529.4 233.0 531.5 233.1 533.5 233.1 535.5 233.3 537.5 233.4 539.6 233.6 541.7 233.8 543.9 234.1 546.1 234.3 548.4 234.6 550.7 235.0 552.9 235.3 555.1 235.7 557.3 236.0 559.4 236.5 561.5 236.9 563.4 237.5 565.8 238.0 568.2 238.6 570.5 239.3 572.6 240.1 574.6 241.2 576.4 242.6 578.2 244.2 579.9 245.9 581.4 247.8 582.6 249.9 583.4 251.8 585.1 253.8 583.1 255.9 583.4 258.1 582.7 260.4 582.4 262.7 580.5 265.1 580.6 266.9 580.0 268.8 579.5 270.7 579.3 272.7 579.2 274.7 578.9 276.7 578.2 278.7 578.6 280.8 577.7 282.8 575.7 284.8 578.0 286.8 576.7 288.8 576.1 290.7 576.3 292.6 575.8 294.5 575.3 296.4 574.3 298.3 574.6 300.3 573.1 302.2 574.5 304.3 572.5 306.4 572.9 308.5 572.7 310.3 572.6 312.2 572.2 314.2 572.5 316.2 569.8 318.2 571.8 320.2 571.6 322.3 571.4 324.4 572.5 326.5 570.9 328.6 571.4 330.7 570.2 332.8 571.5 334.9 570.3 337.0 570.3 339.1 572.6 341.1 571.5 343.1 571.1 345.2 571.1 347.2 570.1 349.2 570.2 351.3 571.1 353.3 569.5 355.3 570.9 357.3 569.6 359.4 570.7 361.4 569.9 363.4 571.6 365.5 571.1 367.5 570.2 369.5 569.4 371.6 570.0 373.6 570.5 375.6 569.9 377.6 570.8 379.6 571.2 381.6 570.6 383.6 570.5 385.6 571.3 387.6 570.7 389.6 571.5 391.6 570.9 393.6 572.1 395.7 571.1 397.7 570.7 399.8 571.5 401.9 571.1 404.0 571.0 406.2 571.5 408.1 572.1 410.1 570.4 412.1 571.7 414.2 571.7 416.2 571.7 418.3 572.4 420.4 571.1 422.6 572.3 424.7 571.8 426.8 572.1 429.0 571.9 431.1 571.9 433.2 571.8 435.4 572.4 437.5 573.5 439.6 572.9 441.6 572.8 443.7 572.7 445.7 572.2 447.7 572.9 449.6 573.9 451.8 572.0 453.9 573.4 455.9 573.6 457.9 573.3 459.9 573.8 461.9 574.3 463.9 575.0 465.9 574.6 467.8 575.0 469.8 574.4 471.8 574.8 473.8 574.6 475.8 574.9 477.8 574.6 479.9 575.5 482.1 576.1 484.0 575.3 486.0 575.8 488.0 576.2 490.1 576.0 492.2 576.7 494.3 576.5 496.4 575.8 498.5 576.1 500.6 577.3 502.8 577.4 504.9 577.9 507.1 577.6 509.2 577.8 511.3 576.9 513.5 578.9 515.5 577.7 517.6 579.1 519.7 578.0 521.7 578.5 523.7 579.2 525.6 579.0 527.8 579.1 529.9 580.3 532.1 580.4 534.2 580.4 536.3 580.2 538.4 580.2 540.5 580.6 542.6 580.8 544.6 581.4 546.6 582.1 548.6 581.8 550.6 581.7 552.5 582.1 554.4 583.5 556.3 583.2 558.1 583.5 560.3 583.8 562.4 584.2 564.5 584.7 566.6 585.1 568.6 585.6 570.6 586.1 572.5 586.6 574.4 587.1 576.3 587.6 578.1 588.1 579.8 588.6 581.9 589.2 583.9 589.9 585.8 590.5 587.6 591.2 589.4 591.9 591.2 592.7 593.0 593.6 594.9 594.6 596.8 595.7 598.7 596.8 600.6 598.1 602.4 599.4 604.2 600.8 606.0 602.3 607.4 603.6 608.8 604.9 610.1 606.4 611.5 607.9 612.8 609.4 614.1 611.0 615.4 612.6 616.7 614.2 617.9 615.9 619.1 617.5 620.3 619.2 621.4 620.8 622.5 622.5 623.6 624.3 624.7 626.0 625.7 627.8 626.8 629.5 627.8 631.3 628.8 633.1 629.9 634.9 630.9 636.6 631.9 638.5 632.8 640.3 633.8 642.2 634.7 644.1 635.7 645.9 636.7 647.8 637.7 649.5 638.7 651.3 639.7 652.9 640.8 654.4 642.2 656.3 643.7 658.1 645.2 659.8 646.7 661.5 648.3 662.9 649.9 664.2 651.6 665.3 653.6 666.3 655.7 667.0 657.8 667.4 660.0 667.7 662.5 667.9 664.3 668.0 666.2 667.9 668.2 667.7 670.2 667.5 672.3 667.2 674.5 666.9 676.8 666.6 679.2 666.2 681.7 665.9 684.2 665.7 685.9 665.6 687.7 665.4 689.5 665.3 691.4 665.2 693.4 665.0 695.4 664.9 697.4 664.7 699.5 664.6 701.6 664.5 703.8 664.3 705.9 664.2 708.1 664.1 710.3 664.0 712.5 663.8 714.7 663.7 716.9 663.6 719.1 663.4 721.3 663.3 723.5 663.2 725.7 663.1 727.8 662.9 729.9 662.8 731.9 662.7 734.0 662.6 736.1 662.4 738.2 662.3 740.3 662.2 742.4 662.1 744.4 661.9 746.5 661.8 748.6 661.7 750.6 661.5 752.7 661.4 754.8 661.3 756.8 661.2 758.9 661.1 760.9 660.9 763.0 660.8 765.0 660.7 767.1 660.6 769.1 660.5 771.2 660.5 773.2 660.4 775.3 660.3 777.4 660.2 779.4 660.2 781.4 660.1 783.5 660.1 785.5 660.0 787.5 660.0 789.5 659.9 791.5 659.9 793.6 659.9 795.6 659.9 797.6 659.8 799.6 659.8 801.7 659.8 803.8 659.8 805.8 659.8 807.9 659.8 810.0 659.8 812.2 659.8 814.3 659.8 816.5 659.8 818.7 659.8 820.6 659.8 822.6 659.8 824.6 659.8 826.6 659.8 828.7 659.8 830.8 659.8 833.0 659.9 835.2 659.9 837.4 659.9 839.6 659.9 841.8 659.9 844.1 659.9 846.3 660.0 848.5 660.0 850.7 660.0 852.9 660.0 855.1 660.1 857.2 660.1 859.3 660.2 861.4 660.2 863.4 660.3 865.4 660.3 867.3 660.4 869.1 660.5 870.9 660.5 872.6 660.6 874.3 660.7 875.8 660.8 877.3 660.9 879.9 661.1 882.2 661.4 884.3 661.7 886.3 662.1 888.2 662.4 890.2 662.7 892.3 662.9 894.7 663.1 896.5 663.2 898.3 663.2 900.2 663.2 902.1 663.2 904.1 663.2 906.2 663.2 908.3 663.1 910.4 663.0 912.5 663.0 914.6 662.9 916.8 662.8 918.9 662.8 921.0 662.7 923.2 662.7 925.2 662.7 927.3 662.7 929.3 662.7 931.3 662.8 933.3 662.9 935.2 662.9 937.1 663.0 939.1 663.1 941.0 663.2 942.9 663.3 944.9 663.4 946.9 663.5 949.0 663.6 951.0 663.7 953.2 663.8 955.4 663.9 957.6 664.0 960.0 664.1 961.7 664.1 963.5 664.2 965.2 664.2 967.1 664.3 968.9 664.3 970.8 664.4 972.8 664.4 974.7 664.4 976.7 664.5 978.7 664.5 980.7 664.5 982.8 664.6 984.9 664.6 986.9 664.6 989.0 664.7 991.2 664.7 993.3 664.7 995.4 664.7 997.6 664.8 999.7 664.8 1001.9 664.8 1004.0 664.8 1006.2 664.9 1008.3 664.9 1010.4 664.9 1012.6 664.9 1014.7 665.0 1016.8 665.0 1018.9 665.0 1021.0 665.0 1023.1 665.1 1025.1 665.1 1027.1 665.1 1029.2 665.2 1031.2 665.2 1033.2 665.2 1035.3 665.2 1037.3 665.3 1039.3 665.3 1041.4 665.3 1043.4 665.3 1045.4 665.3 1047.5 665.4 1049.5 665.4 1051.5 665.4 1053.6 665.4 1055.6 665.5 1057.7 665.5 1059.7 665.5 1061.7 665.5 1063.8 665.5 1065.8 665.6 1067.8 665.6 1069.9 665.6 1071.9 665.7 1073.9 665.7 1076.0 665.7 1078.0 665.8 1080.0 665.8 1082.1 665.8 1084.1 665.9 1086.1 665.9 1088.2 666.0 1090.2 666.0 1092.2 666.0 1094.3 666.1 1096.3 666.2 1098.3 666.2 1100.4 666.3 1102.4 666.3 1104.4 666.4 1106.5 666.5 1108.5 666.5 1110.5 666.6 1112.6 666.7 1114.6 666.8 1116.6 666.8 1118.7 666.9 1120.7 667.0 1122.8 667.0 1124.8 667.1 1126.8 667.2 1128.9 667.3 1130.9 667.4 1132.9 667.4 1135.0 667.5 1137.0 667.6 1139.0 667.7 1141.1 667.7 1143.1 667.8 1145.1 667.9 1147.2 667.9 1149.2 668.0 1151.2 668.1 1153.3 668.1 1155.3 668.2 1157.3 668.3 1159.4 668.3 1161.5 668.4 1163.5 668.4 1165.6 668.5 1167.7 668.5 1169.8 668.6 1171.9 668.6 1174.0 668.7 1176.1 668.7 1178.2 668.8 1180.3 668.8 1182.4 668.9 1184.5 668.9 1186.6 669.0 1188.7 669.0 1190.7 669.1 1192.8 669.1 1194.9 669.2 1196.9 669.2 1199.0 669.3 1201.0 669.3 1203.0 669.4 1205.0 669.4 1207.0 669.5 1209.0 669.6 1211.0 669.6 1212.9 669.7 1214.8 669.7 1216.7 669.8 1218.6 669.8 1220.4 669.9 1222.7 670.0 1224.9 670.0 1227.1 670.1 1229.3 670.2 1231.5 670.3 1233.7 670.3 1235.8 670.4 1237.9 670.5 1240.0 670.6 1242.1 670.6 1244.1 670.7 1246.2 670.8 1248.2 670.9 1250.2 671.0 1252.2 671.0 1254.2 671.1 1256.1 671.2 1258.1 671.3 1260.0 671.5 1262.0 671.6 1263.9 671.7 1266.1 671.8 1268.2 672.0 1270.3 672.2 1272.4 672.3 1274.4 672.5 1276.4 672.7 1278.5 672.8 1280.5 673.0 1282.4 673.2 1284.4 673.4 1286.4 673.6 1288.4 673.8 1290.4 674.0 1292.4 674.2 1294.4 674.5 1296.4 674.7 1298.5 674.9 1300.6 675.2 1302.8 675.5 1305.0 675.8 1307.2 676.1 1309.4 676.4 1311.6 676.8 1313.8 677.1 1315.9 677.4 1318.0 677.7 1320.1 678.0 1322.1 678.3 1324.0 678.6 1325.8 678.9 1327.4 679.1 1329.0 679.3 1331.5 679.6 1333.5 679.9 1335.4 680.1 1337.5 680.3 1340.0 680.6 1341.6 680.8 1343.3 680.9 1345.1 681.1 1347.0 681.3 1349.0 681.5 1351.1 681.7 1353.3 681.9 1355.5 682.1 1357.8 682.3 1360.0 682.5 1362.3 682.7 1364.7 683.0 1366.9 683.2 1369.2 683.4 1371.5 683.7 1373.7 683.9 1375.8 684.2 1377.8 684.5 1379.8 684.7 1381.8 685.0 1383.8 685.3 1385.8 685.6 1387.7 685.9 1389.7 686.2 1391.7 686.5 1393.7 686.8 1395.7 687.1 1397.7 687.4 1399.7 687.8 1401.7 688.1 1403.6 688.4 1405.6 688.7 1407.6 689.1 1409.6 689.4 1411.6 689.7 1413.6 690.0 1415.6 690.3 1417.6 690.7 1419.6 691.0 1421.5 691.3 1423.5 691.6 1425.5 692.0 1427.5 692.3 1429.5 692.6 1431.5 693.0 1433.5 693.3 1435.5 693.6 1437.5 694.0 1439.4 694.3 1441.4 694.6 1443.4 694.9 1445.4 695.3 1447.4 695.6 1449.4 695.9 1451.4 696.3 1453.4 696.6 1455.5 697.0 1457.5 697.3 1459.6 697.6 1461.6 698.0 1463.7 698.3 1465.7 698.7 1467.8 699.0 1469.8 699.4 1471.8 699.7 1473.8 700.0 1475.7 700.3 1477.6 700.6 1479.5 700.9 1481.4 701.1 1483.2 701.4 1485.3 701.7 1487.4 702.0 1489.4 702.2 1491.3 702.5 1493.2 702.7 1495.1 703.0 1497.0 703.2 1498.9 703.4 1500.9 703.6 1502.9 703.7 1505.0 703.9 1507.1 704.0 1509.0 704.1 1511.0 704.2 1513.0 704.2 1515.0 704.3 1517.1 704.3 1519.2 704.3 1521.3 704.4 1523.5 704.4 1525.6 704.3 1527.8 704.3 1530.0 704.3 1532.2 704.3 1534.3 704.2 1536.5 704.2 1538.6 704.1 1540.8 704.1 1542.9 704.0 1545.0 703.9 1547.1 703.8 1549.2 703.7 1551.3 703.6 1553.4 703.5 1555.5 703.3 1557.6 703.2 1559.7 703.0 1561.8 702.8 1564.0 702.7 1566.1 702.5 1568.2 702.4 1570.3 702.2 1572.4 702.1 1574.5 702.0 1576.6 701.9 1578.7 701.8 1580.8 701.7 1582.9 701.7 1585.0 701.6 1587.1 701.6 1589.3 701.5 1591.4 701.5 1593.5 701.5 1595.6 701.5 1597.7 701.4 1599.8 701.4 1601.9 701.4 1604.0 701.4 1606.2 701.4 1608.3 701.4 1610.4 701.4 1612.5 701.4 1614.6 701.4 1616.7 701.4 1618.8 701.4 1620.9 701.4 1623.0 701.4 1625.1 701.4 1627.2 701.4 1629.3 701.4 1631.5 701.4 1633.6 701.4 1635.7 701.4 1637.8 701.4 1639.9 701.4 1642.0 701.4 1644.1 701.5 1646.2 701.5 1648.3 701.5 1650.4 701.6 1652.5 701.7 1654.6 701.7 1656.7 701.8 1658.8 701.9 1660.9 702.0 1663.0 702.1 1665.1 702.2 1667.2 702.3 1669.4 702.4 1671.5 702.6 1673.6 702.7 1675.7 702.8 1677.8 702.9 1679.9 703.0 1682.0 703.1 1684.1 703.2 1686.2 703.3 1688.3 703.4 1690.4 703.5 1692.5 703.6 1694.7 703.6 1696.8 703.7 1698.9 703.8 1701.0 703.9 1703.2 703.9 1705.3 704.0 1707.4 704.1 1709.5 704.2 1711.6 704.2 1713.7 704.3 1715.8 704.3 1717.9 704.4 1719.9 704.5 1722.0 704.5 1724.1 704.5 1726.1 704.6 1728.1 704.6 1730.2 704.7 1732.2 704.7 1734.2 704.7 1736.2 704.7 1738.2 704.7 1740.2 704.8 1742.2 704.8 1744.2 704.8 1746.2 704.8 1748.2 704.8 1750.2 704.9 1752.2 704.9 1754.2 704.9"/></defs><use href="#cBL" stroke-width="2.5"/>
<use href="#cBL" stroke-width="1.2"/></g>
<g stroke="#960000"><defs><path id="cDR" d="M221.8 136.5L221.9 134.4 222.0 132.4 222.1 130.4 222.2 128.3 222.3 126.3 222.3 124.2 222.4 122.1 222.5 120.0 222.6 118.1 222.6 116.0 222.7 114.0 222.7 111.9 222.8 109.8 222.8 107.8 222.9 105.7 222.9 103.7 223.0 101.8 223.0 100.0 223.1 97.8 223.1 95.7 223.2 93.7 223.2 91.7 223.2 89.7 223.3 87.5 223.3 85.4 223.4 83.3 223.4 81.1 223.5 78.9 223.5 76.6 223.6 74.4 223.6 72.2 223.7 70.0 223.8 68.0 223.8 65.9 223.9 63.9 223.9 61.9 224.0 59.9 224.1 57.9 224.1 55.9 224.2 54.0 224.3 51.9 224.3 49.9 224.4 47.8 224.5 45.8 224.5 43.8 224.6 41.9 224.7 40.0 224.8 37.6 224.9 34.9 225.1 32.5 225.2 30.7 225.3 30.0 225.4 30.7 225.6 32.6 225.7 35.1 225.8 37.8 225.9 40.0 226.0 42.0 226.0 43.8 226.0 45.7 226.0 48.0 226.0 49.6 226.0 51.3 226.0 53.1 226.0 55.1 226.0 57.1 226.1 59.2 226.1 61.3 226.1 63.5 226.1 65.7 226.1 67.9 226.1 70.0 226.1 71.9 226.1 73.9 226.1 75.9 226.1 77.9 226.1 79.9 226.1 82.0 226.2 84.1 226.2 86.2 226.2 88.2 226.2 90.2 226.2 92.3 226.2 94.2 226.3 96.1 226.3 98.0 226.4 100.1 226.4 102.1 226.5 104.1 226.5 106.0 226.6 107.9 226.7 109.8 226.8 111.8 226.9 113.8 226.9 115.8 227.0 118.0 227.1 119.8 227.1 121.7 227.2 123.6 227.2 125.6 227.3 127.7 227.3 129.7 227.4 131.8 227.4 134.0 227.5 136.1 227.5 138.2 227.5 140.2 227.6 142.3 227.6 144.3 227.7 146.3 227.7 148.2 227.8 150.0 227.9 152.2 227.9 154.4 228.0 156.4 228.1 158.4 228.2 160.3 228.2 162.3 228.3 164.3 228.4 166.4 228.4 168.6 228.5 171.0 228.5 172.7 228.6 174.4 228.6 176.3 228.6 178.1 228.6 180.1 228.7 182.0 228.7 184.0 228.7 186.1 228.7 188.1 228.7 190.2 228.7 192.3 228.8 194.4 228.8 196.5 228.8 198.7 228.8 200.8 228.8 202.9 228.8 205.0 228.8 207.0 228.9 209.0 228.9 211.0 228.9 213.0 228.9 215.1 228.9 217.2 229.0 219.3 229.0 221.4 229.0 223.5 229.0 225.5 229.0 227.6 229.0 229.7 229.1 231.7 229.1 233.8 229.1 235.8 229.1 237.8 229.1 239.9 229.2 241.9 229.2 243.9 229.2 245.9 229.3 248.0 229.3 250.0 229.3 252.1 229.4 254.2 229.4 256.2 229.5 258.3 229.5 260.4 229.6 262.4 229.6 264.5 229.7 266.5 229.7 268.6 229.8 270.6 229.8 272.7 229.9 274.7 230.0 276.8 230.0 278.8 230.1 280.9 230.1 282.9 230.2 285.0 230.3 287.1 230.3 289.1 230.4 291.1 230.5 293.2 230.5 295.2 230.6 297.3 230.7 299.3 230.7 301.3 230.8 303.4 230.9 305.4 230.9 307.5 231.0 309.5 231.1 311.6 231.1 313.7 231.2 315.8 231.2 317.9 231.3 320.0 231.3 322.0 231.4 323.9 231.4 325.9 231.4 328.0 231.5 330.0 231.5 332.1 231.5 334.2 231.5 336.3 231.6 338.3 231.6 340.4 231.6 342.5 231.6 344.5 231.6 346.6 231.7 348.6 231.7 350.6 231.8 352.6 231.8 354.5 231.9 356.4 231.9 358.2 232.0 360.0 232.1 362.3 232.2 364.5 232.4 366.7 232.5 368.8 232.7 370.9 232.8 372.9 233.0 375.0 233.2 377.0 233.3 379.0 233.5 381.0 233.6 383.0 233.8 385.0 233.9 387.1 234.1 389.3 234.2 391.4 234.3 393.6 234.4 395.7 234.5 397.9 234.7 399.9 234.8 402.0 235.0 404.1 235.2 406.1 235.5 408.0 235.9 410.3 236.3 412.6 236.8 414.8 237.3 417.0 237.8 419.2 238.4 421.2 238.9 423.2 239.5 425.0 240.3 427.6 241.1 429.9 242.0 432.1 243.0 434.0 244.2 435.7 245.5 437.2 247.0 438.5 249.3 440.2 252.0 442.2 253.9 442.8 256.0 442.3 258.1 442.1 260.0 442.2 262.3 443.5 265.1 443.6 266.2 443.5 267.6 444.5 269.1 444.5 270.7 444.8 272.5 444.0 274.4 444.5 276.4 444.5 278.5 443.6 280.7 444.7 283.0 444.5 285.3 445.6 287.7 444.3 290.0 444.1 292.5 444.7 294.9 444.1 297.2 444.4 299.6 443.6 301.9 443.9 304.2 444.2 306.4 444.0 308.5 443.7 310.6 443.0 312.6 443.8 314.7 443.5 316.8 443.9 318.8 443.6 320.9 444.0 323.0 443.3 325.0 443.4 327.1 443.6 329.2 442.6 331.2 443.0 333.3 442.9 335.4 444.2 337.4 443.1 339.5 443.4 341.6 443.4 343.6 442.9 345.7 442.2 347.8 443.5 349.8 442.8 351.9 443.4 354.0 442.3 356.0 442.8 358.1 443.7 360.2 443.8 362.2 442.3 364.3 442.3 366.4 443.0 368.4 443.5 370.5 443.2 372.6 443.3 374.6 442.6 376.7 443.5 378.8 443.8 380.8 443.0 382.9 442.5 385.0 442.9 387.0 443.8 389.1 442.4 391.2 443.4 393.2 443.0 395.3 443.5 397.4 443.5 399.4 443.8 401.5 444.7 403.6 444.2 405.6 444.8 407.7 444.1 409.8 444.1 411.8 444.7 413.9 443.0 416.0 444.7 418.0 445.0 420.1 444.3 422.2 445.4 424.2 445.0 426.3 444.1 428.4 445.4 430.4 445.2 432.5 445.5 434.6 445.9 436.6 446.8 438.7 446.3 440.8 446.3 442.9 446.6 445.0 445.5 447.1 447.3 449.2 446.2 451.3 447.1 453.4 446.4 455.5 446.6 457.6 447.0 459.7 448.3 461.8 447.8 463.9 447.2 466.0 447.5 468.1 447.1 470.2 447.8 472.2 447.6 474.2 448.4 476.2 447.4 478.2 448.0 480.2 447.8 482.1 448.0 484.3 448.9 486.4 448.7 488.6 449.0 490.7 449.4 492.9 449.5 495.0 448.2 497.0 449.3 499.1 448.1 501.2 449.1 503.2 450.3 505.2 449.2 507.1 449.2 509.1 449.6 511.0 449.6 512.9 449.8 514.7 449.5 517.0 450.7 519.3 450.8 521.4 450.4 523.5 450.9 525.6 451.3 527.6 451.8 529.7 451.7 531.9 452.1 534.1 451.9 536.4 451.7 538.3 452.2 540.3 453.3 542.4 453.5 544.5 453.3 546.7 453.2 548.9 453.9 551.1 454.9 553.4 455.0 555.6 454.1 557.8 454.7 559.9 454.2 561.9 454.7 563.9 455.7 565.7 455.9 567.4 456.7 569.0 457.1 571.6 457.4 573.8 458.2 575.9 457.7 577.9 457.9 580.0 459.4 582.2 459.6 584.4 460.1 586.6 460.6 588.7 461.1 590.9 461.7 593.1 462.4 595.3 463.1 597.5 463.8 599.6 464.7 601.7 465.6 603.5 466.5 605.3 467.5 607.0 468.6 608.7 469.7 610.4 471.0 611.9 472.2 613.5 473.5 615.0 474.9 616.6 476.3 618.1 477.8 619.7 479.3 621.2 480.8 622.6 482.2 624.0 483.6 625.3 485.1 626.7 486.6 628.1 488.1 629.4 489.6 630.8 491.1 632.1 492.7 633.5 494.4 634.8 496.3 636.1 498.1 637.4 500.0 638.7 501.9 640.1 503.7 641.5 505.3 642.9 506.8 644.6 508.3 646.3 509.8 648.1 511.1 650.0 512.2 651.8 513.2 653.8 514.0 655.8 514.5 657.8 514.8 659.9 514.9 662.1 514.9 664.3 514.8 666.8 514.8 668.5 514.8 670.3 514.7 672.1 514.6 674.0 514.4 675.9 514.3 677.9 514.1 680.0 513.9 682.1 513.7 684.2 513.5 686.3 513.3 688.5 513.2 690.7 513.0 692.9 512.9 694.8 512.8 696.7 512.7 698.6 512.7 700.6 512.6 702.6 512.5 704.6 512.5 706.6 512.4 708.7 512.3 710.8 512.3 712.9 512.2 715.0 512.2 717.1 512.2 719.2 512.1 721.4 512.1 723.5 512.1 725.6 512.0 727.7 512.0 729.8 512.0 731.9 512.0 734.0 512.0 736.2 512.0 738.4 512.1 740.7 512.1 743.1 512.2 745.4 512.3 747.8 512.4 750.2 512.5 752.6 512.6 754.9 512.6 757.2 512.7 759.4 512.8 761.6 512.8 763.6 512.9 765.6 512.9 767.4 512.9 769.1 512.8 770.6 512.8 772.0 512.6 773.2 512.5 776.1 511.5 778.6 510.7 780.7 510.8 783.0 511.2 785.5 511.7 788.4 512.2 789.9 512.4 791.5 512.5 793.2 512.7 795.1 512.9 796.9 513.1 798.9 513.2 800.9 513.4 803.0 513.6 805.1 513.7 807.3 513.9 809.6 514.1 811.8 514.2 814.1 514.3 816.4 514.5 818.7 514.6 820.4 514.7 822.3 514.8 824.1 514.8 826.0 514.9 828.0 515.0 830.0 515.0 832.0 515.0 834.1 515.1 836.1 515.1 838.2 515.2 840.4 515.2 842.5 515.2 844.7 515.3 846.8 515.3 848.9 515.3 851.1 515.4 853.2 515.4 855.3 515.4 857.4 515.5 859.5 515.5 861.6 515.5 863.6 515.6 865.6 515.6 867.5 515.7 869.4 515.8 871.2 515.8 873.0 515.9 875.3 516.0 877.5 516.1 879.6 516.3 881.7 516.4 883.8 516.5 885.8 516.7 887.8 516.8 889.8 517.0 891.8 517.1 893.7 517.3 895.7 517.4 897.6 517.6 899.6 517.7 901.6 517.8 903.6 518.0 905.6 518.1 907.6 518.2 909.7 518.3 911.8 518.4 913.9 518.6 916.0 518.7 918.1 518.8 920.2 518.9 922.3 519.0 924.3 519.1 926.4 519.2 928.4 519.3 930.4 519.4 932.4 519.5 934.3 519.6 936.2 519.7 938.1 519.8 940.4 519.9 942.6 520.1 944.8 520.2 946.8 520.3 948.9 520.5 950.9 520.6 953.0 520.7 955.2 520.9 957.5 521.0 960.0 521.2 961.7 521.3 963.6 521.4 965.4 521.6 967.3 521.7 969.3 521.9 971.3 522.0 973.4 522.2 975.5 522.3 977.6 522.5 979.7 522.6 981.9 522.8 984.0 523.0 986.2 523.1 988.4 523.3 990.6 523.4 992.7 523.6 994.9 523.7 997.1 523.9 999.2 524.0 1001.3 524.2 1003.4 524.3 1005.5 524.4 1007.5 524.6 1009.6 524.7 1011.7 524.8 1013.7 524.9 1015.8 525.1 1017.9 525.2 1019.9 525.3 1022.0 525.4 1024.1 525.5 1026.1 525.7 1028.2 525.8 1030.3 525.9 1032.3 526.0 1034.4 526.1 1036.5 526.2 1038.5 526.3 1040.6 526.4 1042.7 526.5 1044.7 526.6 1046.8 526.7 1048.9 526.8 1050.9 526.9 1053.0 527.0 1055.1 527.0 1057.1 527.1 1059.2 527.2 1061.3 527.3 1063.3 527.3 1065.4 527.4 1067.5 527.5 1069.5 527.5 1071.6 527.6 1073.7 527.7 1075.7 527.7 1077.8 527.8 1079.9 527.9 1081.9 527.9 1084.0 528.0 1086.1 528.1 1088.1 528.1 1090.2 528.2 1092.3 528.3 1094.3 528.3 1096.4 528.4 1098.5 528.5 1100.5 528.6 1102.6 528.7 1104.7 528.7 1106.7 528.8 1108.8 528.9 1110.9 529.0 1112.9 529.0 1115.0 529.1 1117.1 529.2 1119.1 529.3 1121.2 529.3 1123.3 529.4 1125.3 529.5 1127.4 529.5 1129.5 529.6 1131.5 529.6 1133.6 529.7 1135.7 529.7 1137.8 529.8 1139.9 529.8 1142.1 529.8 1144.3 529.9 1146.4 529.9 1148.6 529.9 1150.8 529.9 1153.0 529.9 1155.2 529.9 1157.3 530.0 1159.4 530.0 1161.6 530.0 1163.6 530.0 1165.7 530.1 1167.7 530.1 1169.7 530.1 1171.6 530.2 1173.4 530.2 1175.3 530.3 1177.0 530.4 1179.5 530.5 1181.8 530.7 1184.1 530.9 1186.2 531.0 1188.3 531.2 1190.4 531.4 1192.4 531.6 1194.5 531.8 1196.6 532.1 1198.7 532.3 1200.8 532.5 1202.9 532.8 1205.0 533.0 1207.0 533.3 1209.1 533.6 1211.2 533.8 1213.3 534.1 1215.6 534.4 1217.9 534.8 1220.4 535.1 1222.1 535.3 1224.0 535.6 1225.8 535.8 1227.8 536.1 1229.7 536.4 1231.7 536.6 1233.8 536.9 1235.9 537.2 1238.0 537.5 1240.1 537.8 1242.3 538.1 1244.5 538.4 1246.7 538.7 1248.9 539.0 1251.0 539.3 1253.2 539.7 1255.4 540.0 1257.6 540.3 1259.7 540.6 1261.8 540.9 1263.9 541.2 1266.0 541.5 1268.1 541.8 1270.2 542.1 1272.3 542.4 1274.4 542.7 1276.5 543.0 1278.6 543.4 1280.7 543.7 1282.8 544.0 1284.9 544.3 1287.0 544.6 1289.1 544.9 1291.2 545.3 1293.3 545.6 1295.4 545.9 1297.4 546.2 1299.4 546.6 1301.4 546.9 1303.4 547.2 1305.4 547.6 1307.3 547.9 1309.5 548.3 1311.6 548.7 1313.8 549.1 1315.9 549.5 1318.0 550.0 1320.1 550.4 1322.2 550.8 1324.3 551.3 1326.3 551.7 1328.3 552.1 1330.3 552.5 1332.3 552.9 1334.2 553.3 1336.2 553.7 1338.1 554.1 1340.0 554.4 1342.1 554.8 1344.2 555.1 1346.2 555.4 1348.2 555.7 1350.2 556.0 1352.2 556.3 1354.1 556.6 1356.1 556.8 1358.0 557.1 1360.0 557.4 1361.9 557.7 1363.9 558.0 1365.9 558.3 1367.8 558.6 1369.7 559.0 1371.5 559.3 1373.4 559.6 1375.3 560.0 1377.2 560.3 1379.2 560.7 1381.2 561.0 1383.3 561.4 1385.4 561.7 1387.7 562.1 1389.4 562.4 1391.1 562.6 1392.9 562.9 1394.8 563.2 1396.7 563.5 1398.6 563.8 1400.6 564.1 1402.7 564.4 1404.7 564.7 1406.8 565.0 1408.9 565.3 1411.0 565.6 1413.1 565.9 1415.2 566.2 1417.3 566.4 1419.5 566.7 1421.6 567.0 1423.6 567.3 1425.7 567.6 1427.7 567.8 1429.7 568.1 1431.7 568.3 1433.6 568.6 1435.5 568.8 1437.7 569.1 1440.0 569.3 1442.2 569.6 1444.4 569.8 1446.6 570.0 1448.7 570.2 1450.9 570.4 1453.0 570.6 1455.1 570.8 1457.2 571.0 1459.3 571.2 1461.3 571.4 1463.4 571.6 1465.4 571.8 1467.4 571.9 1469.3 572.1 1471.3 572.3 1473.4 572.5 1475.5 572.7 1477.6 572.9 1479.6 573.2 1481.6 573.4 1483.5 573.6 1485.5 573.8 1487.4 574.0 1489.4 574.1 1491.4 574.3 1493.4 574.4 1495.5 574.5 1497.6 574.5 1499.6 574.5 1501.6 574.5 1503.6 574.4 1505.6 574.3 1507.7 574.2 1509.8 574.1 1511.9 573.9 1514.0 573.7 1516.1 573.6 1518.2 573.4 1520.3 573.2 1522.5 573.0 1524.6 572.8 1526.7 572.6 1528.9 572.5 1531.0 572.3 1533.1 572.2 1535.2 572.0 1537.2 571.8 1539.3 571.6 1541.4 571.5 1543.5 571.3 1545.7 571.1 1547.8 570.9 1549.9 570.8 1552.0 570.6 1554.1 570.4 1556.2 570.3 1558.3 570.1 1560.5 570.0 1562.6 569.9 1564.7 569.8 1566.8 569.7 1568.9 569.6 1571.0 569.6 1573.1 569.6 1575.2 569.5 1577.3 569.5 1579.4 569.5 1581.5 569.5 1583.6 569.5 1585.8 569.5 1587.9 569.6 1590.0 569.6 1592.1 569.7 1594.2 569.7 1596.3 569.8 1598.4 569.8 1600.5 569.9 1602.6 570.0 1604.7 570.1 1606.8 570.2 1608.9 570.3 1610.9 570.5 1613.0 570.6 1615.0 570.8 1617.1 570.9 1619.1 571.1 1621.2 571.3 1623.3 571.4 1625.4 571.6 1627.5 571.8 1629.6 572.0 1631.8 572.1 1634.0 572.3 1636.2 572.4 1638.4 572.6 1640.3 572.7 1642.3 572.9 1644.3 573.0 1646.4 573.1 1648.5 573.2 1650.6 573.3 1652.7 573.5 1654.8 573.6 1656.9 573.7 1659.1 573.8 1661.2 573.9 1663.4 574.1 1665.5 574.2 1667.7 574.3 1669.8 574.4 1671.9 574.5 1674.0 574.7 1676.1 574.8 1678.2 574.9 1680.3 575.0 1682.3 575.1 1684.3 575.3 1686.2 575.4 1688.4 575.6 1690.7 575.7 1692.9 575.9 1695.0 576.1 1697.2 576.2 1699.3 576.4 1701.4 576.6 1703.5 576.8 1705.6 576.9 1707.6 577.1 1709.7 577.3 1711.8 577.4 1713.8 577.6 1715.9 577.7 1717.9 577.9 1720.0 578.0 1722.0 578.1 1724.1 578.2 1726.1 578.3 1728.1 578.3 1730.2 578.4 1732.2 578.5 1734.2 578.5 1736.2 578.5 1738.2 578.6 1740.2 578.6 1742.2 578.6 1744.2 578.6 1746.2 578.7 1748.2 578.7 1750.2 578.7 1752.2 578.8 1754.2 578.8"/></defs><use href="#cDR" stroke-width="2.5"/>
<use href="#cDR" stroke-width="1.2"/></g>
</g>
<path d="M194.5 1366V1379.0 M336.3 1366V1392.0 M478.0 1366V1379.0 M619.8 1366V1392.0 M761.5 1366V1379.0 M903.3 1366V1392.0 M1045.0 1366V1379.0 M1186.8 1366V1392.0 M1328.5 1366V1379.0 M1470.3 1366V1392.0 M1612.0 1366V1379.0 M1753.8 1366V1392.0" stroke="#000" stroke-width="5" fill="none"/>
<g font-family="Liberation Serif, serif" fill="#000">
<text transform="translate(278.12 1450.40) scale(0.9190 1)" font-size="60">−100</text>
<text transform="translate(575.18 1450.40) scale(0.9321 1)" font-size="60">−50</text>
<text transform="translate(888.09 1450.40) scale(0.9676 1)" font-size="60">0</text>
<text transform="translate(1156.32 1450.40) scale(0.9889 1)" font-size="60">50</text>
<text transform="translate(1426.31 1450.40) scale(0.9576 1)" font-size="60">100</text>
<text transform="translate(1709.98 1450.40) scale(0.9648 1)" font-size="60">150</text>
<text transform="translate(720.17 1548.60) scale(1.0938 1)" font-size="72">Temperature</text>
<text transform="translate(1136.46 1548.60) scale(0.9532 1)" font-size="72">(°C)</text>
<text transform="translate(93.00 926.01) rotate(-90) scale(1.0723 1)" font-size="72.5">Heat</text>
<text transform="translate(93.00 761.36) rotate(-90) scale(1.0265 1)" font-size="72.5">flow</text>
<text transform="translate(93.00 603.24) rotate(-90) scale(0.9886 1)" font-size="72.5">(W/g)</text>
<text transform="translate(1381.41 106.20) scale(0.9466 1)" font-size="50.5">SBR</text>
<text transform="translate(1485.16 106.20) scale(0.9737 1)" font-size="50.5">0%</text>
<text transform="translate(1381.30 179.90) scale(0.9498 1)" font-size="50.5">SBR</text>
<text transform="translate(1483.64 179.90) scale(0.9982 1)" font-size="50.5">5%</text>
<text transform="translate(1564.20 179.90) scale(1.0783 1)" font-size="50.5">Cellulose</text>
<text transform="translate(1381.30 252.90) scale(0.9498 1)" font-size="50.5">SBR</text>
<text transform="translate(1483.91 252.90) scale(0.9865 1)" font-size="50.5">10%</text>
<text transform="translate(1589.80 252.90) scale(1.0757 1)" font-size="50.5">Cellulose</text>
<text transform="translate(1381.30 327.60) scale(0.9498 1)" font-size="50.5">SBR</text>
<text transform="translate(1483.91 327.60) scale(0.9865 1)" font-size="50.5">15%</text>
<text transform="translate(1589.80 327.60) scale(1.0757 1)" font-size="50.5">Cellulose</text>
<text transform="translate(1381.33 400.90) scale(0.9423 1)" font-size="50.5">SBR</text>
<text transform="translate(1484.25 400.90) scale(0.9816 1)" font-size="50.5">20%</text>
<text transform="translate(1589.10 400.90) scale(1.0794 1)" font-size="50.5">Cellulose</text>
</g>
<path d="M1235.4 87.0H1371" stroke="#008000" stroke-width="2"/>
<path d="M1235.4 161.0H1371" stroke="#e8dc00" stroke-width="2"/>
<path d="M1235.4 235.0H1371" stroke="#ff8000" stroke-width="2"/>
<path d="M1235.4 308.5H1371" stroke="#03a2ff" stroke-width="3"/>
<path d="M1235.4 383.0H1371" stroke="#960000" stroke-width="2"/>
</svg>
</body></html>
